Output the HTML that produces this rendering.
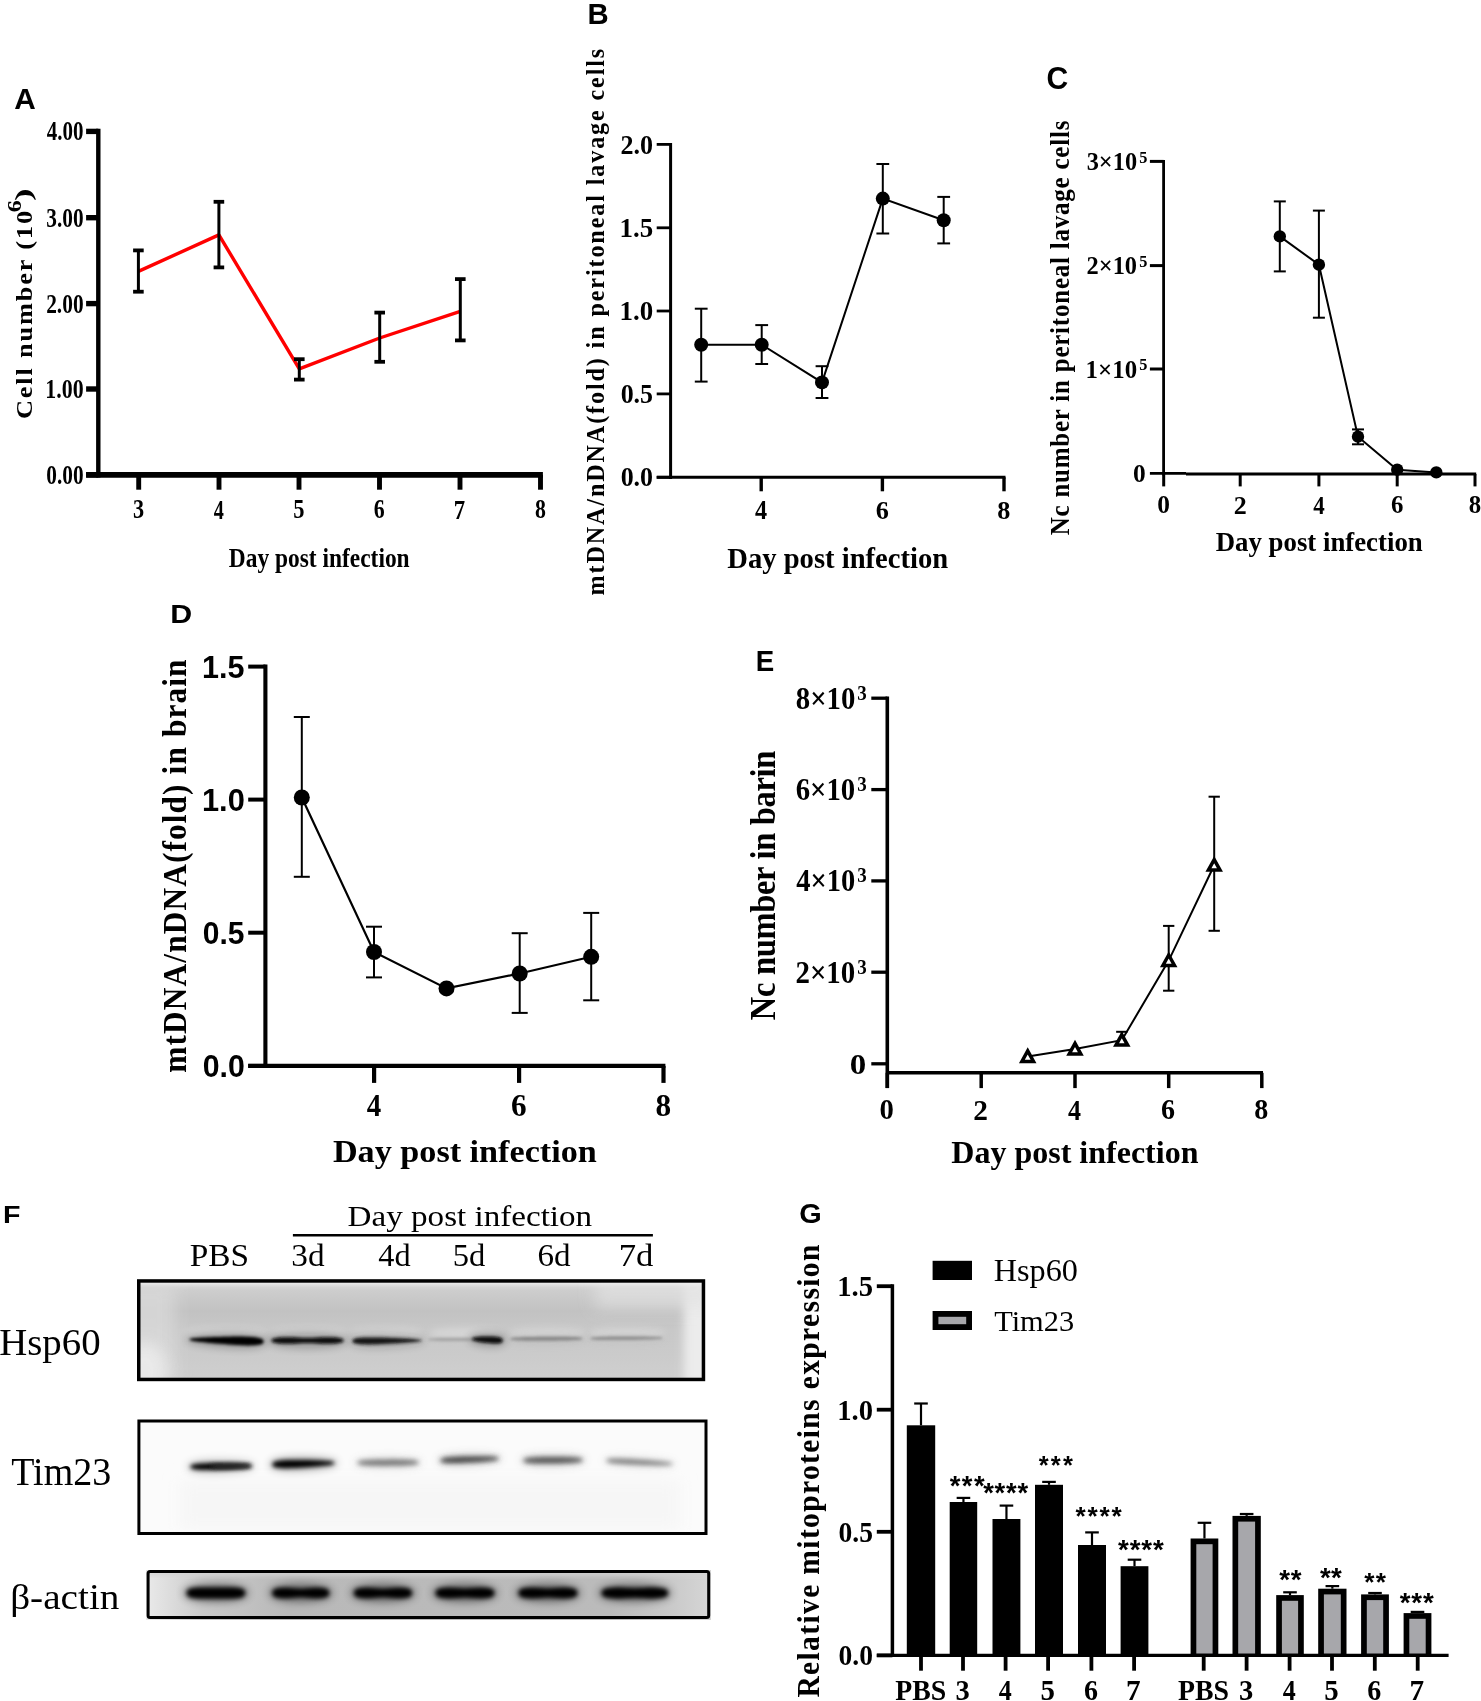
<!DOCTYPE html>
<html><head><meta charset="utf-8"><title>Figure</title>
<style>html,body{margin:0;padding:0;background:#fff;}svg{display:block;will-change:transform;}</style></head>
<body><svg width="1481" height="1701" viewBox="0 0 1481 1701">
<defs><filter id="bl12" filterUnits="userSpaceOnUse" x="0" y="1150" width="1481" height="551"><feGaussianBlur stdDeviation="1.2"/></filter><filter id="bl13" filterUnits="userSpaceOnUse" x="0" y="1150" width="1481" height="551"><feGaussianBlur stdDeviation="1.3"/></filter><filter id="bl14" filterUnits="userSpaceOnUse" x="0" y="1150" width="1481" height="551"><feGaussianBlur stdDeviation="1.4"/></filter><filter id="bl15" filterUnits="userSpaceOnUse" x="0" y="1150" width="1481" height="551"><feGaussianBlur stdDeviation="1.5"/></filter><filter id="bl16" filterUnits="userSpaceOnUse" x="0" y="1150" width="1481" height="551"><feGaussianBlur stdDeviation="1.6"/></filter><filter id="bl18" filterUnits="userSpaceOnUse" x="0" y="1150" width="1481" height="551"><feGaussianBlur stdDeviation="1.8"/></filter><filter id="bl20" filterUnits="userSpaceOnUse" x="0" y="1150" width="1481" height="551"><feGaussianBlur stdDeviation="2.0"/></filter><filter id="bl25" filterUnits="userSpaceOnUse" x="0" y="1150" width="1481" height="551"><feGaussianBlur stdDeviation="2.5"/></filter><filter id="bl30" filterUnits="userSpaceOnUse" x="0" y="1150" width="1481" height="551"><feGaussianBlur stdDeviation="3.0"/></filter><filter id="bl40" filterUnits="userSpaceOnUse" x="0" y="1150" width="1481" height="551"><feGaussianBlur stdDeviation="4.0"/></filter><filter id="bl50" filterUnits="userSpaceOnUse" x="0" y="1150" width="1481" height="551"><feGaussianBlur stdDeviation="5.0"/></filter><filter id="bl60" filterUnits="userSpaceOnUse" x="0" y="1150" width="1481" height="551"><feGaussianBlur stdDeviation="6.0"/></filter><filter id="bl80" filterUnits="userSpaceOnUse" x="0" y="1150" width="1481" height="551"><feGaussianBlur stdDeviation="8.0"/></filter>
<linearGradient id="gH" x1="0" y1="0" x2="0" y2="1">
<stop offset="0" stop-color="#dcdcdc"/><stop offset="0.1" stop-color="#cdcdcd"/><stop offset="0.3" stop-color="#c2c2c2"/>
<stop offset="0.5" stop-color="#c8c8c8"/><stop offset="0.75" stop-color="#cbcbcb"/><stop offset="1" stop-color="#cfcfcf"/>
</linearGradient>
<linearGradient id="gB" x1="0" y1="0" x2="1" y2="0">
<stop offset="0" stop-color="#eaeaea"/><stop offset="0.1" stop-color="#cacaca"/><stop offset="0.25" stop-color="#b9b9b9"/>
<stop offset="0.82" stop-color="#bbbbbb"/><stop offset="0.92" stop-color="#c8c8c8"/><stop offset="1" stop-color="#d6d6d6"/>
</linearGradient>
<clipPath id="clipH"><rect x="139" y="1281" width="565" height="99"/></clipPath>
<clipPath id="clipT"><rect x="138" y="1420" width="569" height="114"/></clipPath>
<clipPath id="clipB"><rect x="146" y="1570" width="565" height="50"/></clipPath>
</defs>
<rect x="0" y="0" width="1481" height="1701" fill="#fff"/>
<text transform="translate(14.25,109.30) scale(0.9867,1)" font-family="Liberation Sans" font-weight="bold" font-size="30.25" fill="#000" >A</text>
<line x1="98.30" y1="128.70" x2="98.30" y2="477.60" stroke="#000" stroke-width="4.4" stroke-linecap="butt"/>
<line x1="86.10" y1="131.40" x2="98.30" y2="131.40" stroke="#000" stroke-width="5.4" stroke-linecap="butt"/>
<text transform="translate(46.84,140.40) scale(0.7933,1)" font-family="Liberation Serif" font-weight="bold" font-size="26.47" fill="#000" >4.00</text>
<line x1="86.10" y1="217.70" x2="98.30" y2="217.70" stroke="#000" stroke-width="5.4" stroke-linecap="butt"/>
<text transform="translate(46.30,226.70) scale(0.8052,1)" font-family="Liberation Serif" font-weight="bold" font-size="26.47" fill="#000" >3.00</text>
<line x1="86.10" y1="303.60" x2="98.30" y2="303.60" stroke="#000" stroke-width="5.4" stroke-linecap="butt"/>
<text transform="translate(46.19,312.60) scale(0.8076,1)" font-family="Liberation Serif" font-weight="bold" font-size="26.47" fill="#000" >2.00</text>
<line x1="86.10" y1="389.00" x2="98.30" y2="389.00" stroke="#000" stroke-width="5.4" stroke-linecap="butt"/>
<text transform="translate(45.35,398.00) scale(0.8261,1)" font-family="Liberation Serif" font-weight="bold" font-size="26.47" fill="#000" >1.00</text>
<line x1="86.10" y1="474.80" x2="98.30" y2="474.80" stroke="#000" stroke-width="5.4" stroke-linecap="butt"/>
<text transform="translate(46.30,483.80) scale(0.8052,1)" font-family="Liberation Serif" font-weight="bold" font-size="26.47" fill="#000" >0.00</text>
<line x1="86.10" y1="474.80" x2="542.90" y2="474.80" stroke="#000" stroke-width="5.7" stroke-linecap="butt"/>
<line x1="138.70" y1="474.80" x2="138.70" y2="489.70" stroke="#000" stroke-width="4.9" stroke-linecap="butt"/>
<text transform="translate(132.97,518.24) scale(0.8396,1)" font-family="Liberation Serif" font-weight="bold" font-size="26.47" fill="#000" >3</text>
<line x1="219.00" y1="474.80" x2="219.00" y2="489.70" stroke="#000" stroke-width="4.9" stroke-linecap="butt"/>
<text transform="translate(213.85,518.50) scale(0.7466,1)" font-family="Liberation Serif" font-weight="bold" font-size="27.07" fill="#000" >4</text>
<line x1="299.00" y1="474.80" x2="299.00" y2="489.70" stroke="#000" stroke-width="4.9" stroke-linecap="butt"/>
<text transform="translate(293.20,518.23) scale(0.8400,1)" font-family="Liberation Serif" font-weight="bold" font-size="26.77" fill="#000" >5</text>
<line x1="379.50" y1="474.80" x2="379.50" y2="489.70" stroke="#000" stroke-width="4.9" stroke-linecap="butt"/>
<text transform="translate(373.84,518.24) scale(0.8251,1)" font-family="Liberation Serif" font-weight="bold" font-size="26.47" fill="#000" >6</text>
<line x1="460.00" y1="474.80" x2="460.00" y2="489.70" stroke="#000" stroke-width="4.9" stroke-linecap="butt"/>
<text transform="translate(453.79,518.50) scale(0.8373,1)" font-family="Liberation Serif" font-weight="bold" font-size="27.18" fill="#000" >7</text>
<line x1="540.50" y1="474.80" x2="540.50" y2="489.70" stroke="#000" stroke-width="4.9" stroke-linecap="butt"/>
<text transform="translate(534.89,518.24) scale(0.8282,1)" font-family="Liberation Serif" font-weight="bold" font-size="26.37" fill="#000" >8</text>
<text transform="translate(228.79,567.00) scale(0.8431,1)" font-family="Liberation Serif" font-weight="bold" font-size="27.79" fill="#000" >Day post infection</text>
<text transform="translate(31.50,419.12) rotate(-90) scale(1.1200,1)" font-family="Liberation Serif" font-weight="bold" font-size="23.50" letter-spacing="1.661" fill="#000">Cell number (10</text>
<text transform="translate(20.82,212.14) rotate(-90) scale(1.3091,1)" font-family="Liberation Serif" font-weight="bold" font-size="18.44" letter-spacing="0.000" fill="#000">6</text>
<text transform="translate(31.18,201.04) rotate(-90) scale(1.6766,1)" font-family="Liberation Serif" font-weight="bold" font-size="22.70" letter-spacing="0.000" fill="#000">)</text>
<polyline points="138.40,271.40 218.90,234.90 299.30,368.80 379.70,338.00 460.30,311.40" fill="none" stroke="#ff0000" stroke-width="3.4" stroke-linejoin="round"/>
<line x1="138.40" y1="250.40" x2="138.40" y2="291.70" stroke="#000" stroke-width="3.0" stroke-linecap="butt"/>
<line x1="133.10" y1="250.40" x2="143.70" y2="250.40" stroke="#000" stroke-width="3.8" stroke-linecap="butt"/>
<line x1="133.10" y1="291.70" x2="143.70" y2="291.70" stroke="#000" stroke-width="3.8" stroke-linecap="butt"/>
<line x1="218.90" y1="201.80" x2="218.90" y2="267.40" stroke="#000" stroke-width="3.0" stroke-linecap="butt"/>
<line x1="213.60" y1="201.80" x2="224.20" y2="201.80" stroke="#000" stroke-width="3.8" stroke-linecap="butt"/>
<line x1="213.60" y1="267.40" x2="224.20" y2="267.40" stroke="#000" stroke-width="3.8" stroke-linecap="butt"/>
<line x1="299.30" y1="359.20" x2="299.30" y2="379.60" stroke="#000" stroke-width="3.0" stroke-linecap="butt"/>
<line x1="294.00" y1="359.20" x2="304.60" y2="359.20" stroke="#000" stroke-width="3.8" stroke-linecap="butt"/>
<line x1="294.00" y1="379.60" x2="304.60" y2="379.60" stroke="#000" stroke-width="3.8" stroke-linecap="butt"/>
<line x1="379.70" y1="312.60" x2="379.70" y2="361.80" stroke="#000" stroke-width="3.0" stroke-linecap="butt"/>
<line x1="374.40" y1="312.60" x2="385.00" y2="312.60" stroke="#000" stroke-width="3.8" stroke-linecap="butt"/>
<line x1="374.40" y1="361.80" x2="385.00" y2="361.80" stroke="#000" stroke-width="3.8" stroke-linecap="butt"/>
<line x1="460.30" y1="279.10" x2="460.30" y2="340.40" stroke="#000" stroke-width="3.0" stroke-linecap="butt"/>
<line x1="455.00" y1="279.10" x2="465.60" y2="279.10" stroke="#000" stroke-width="3.8" stroke-linecap="butt"/>
<line x1="455.00" y1="340.40" x2="465.60" y2="340.40" stroke="#000" stroke-width="3.8" stroke-linecap="butt"/>
<text transform="translate(587.42,24.10) scale(0.9987,1)" font-family="Liberation Sans" font-weight="bold" font-size="29.38" fill="#000" >B</text>
<line x1="670.60" y1="143.00" x2="670.60" y2="478.90" stroke="#000" stroke-width="3.0" stroke-linecap="butt"/>
<line x1="656.70" y1="144.40" x2="670.60" y2="144.40" stroke="#000" stroke-width="2.8" stroke-linecap="butt"/>
<text transform="translate(620.49,153.50) scale(0.9794,1)" font-family="Liberation Serif" font-weight="bold" font-size="26.62" fill="#000" >2.0</text>
<line x1="656.70" y1="227.80" x2="670.60" y2="227.80" stroke="#000" stroke-width="2.8" stroke-linecap="butt"/>
<text transform="translate(619.45,236.90) scale(1.0044,1)" font-family="Liberation Serif" font-weight="bold" font-size="26.81" fill="#000" >1.5</text>
<line x1="656.70" y1="311.00" x2="670.60" y2="311.00" stroke="#000" stroke-width="2.8" stroke-linecap="butt"/>
<text transform="translate(619.45,320.10) scale(1.0118,1)" font-family="Liberation Serif" font-weight="bold" font-size="26.62" fill="#000" >1.0</text>
<line x1="656.70" y1="393.90" x2="670.60" y2="393.90" stroke="#000" stroke-width="2.8" stroke-linecap="butt"/>
<text transform="translate(620.63,403.00) scale(0.9752,1)" font-family="Liberation Serif" font-weight="bold" font-size="26.62" fill="#000" >0.5</text>
<line x1="656.70" y1="477.30" x2="670.60" y2="477.30" stroke="#000" stroke-width="2.8" stroke-linecap="butt"/>
<text transform="translate(620.63,486.40) scale(0.9752,1)" font-family="Liberation Serif" font-weight="bold" font-size="26.62" fill="#000" >0.0</text>
<line x1="656.70" y1="477.30" x2="1005.50" y2="477.30" stroke="#000" stroke-width="3.1" stroke-linecap="butt"/>
<line x1="761.20" y1="477.30" x2="761.20" y2="491.30" stroke="#000" stroke-width="3.4" stroke-linecap="butt"/>
<text transform="translate(755.10,519.30) scale(0.9165,1)" font-family="Liberation Serif" font-weight="bold" font-size="26.46" fill="#000" >4</text>
<line x1="882.40" y1="477.30" x2="882.40" y2="491.30" stroke="#000" stroke-width="3.4" stroke-linecap="butt"/>
<text transform="translate(875.68,519.04) scale(1.0129,1)" font-family="Liberation Serif" font-weight="bold" font-size="25.87" fill="#000" >6</text>
<line x1="1004.00" y1="477.30" x2="1004.00" y2="491.30" stroke="#000" stroke-width="3.4" stroke-linecap="butt"/>
<text transform="translate(997.35,519.04) scale(1.0166,1)" font-family="Liberation Serif" font-weight="bold" font-size="25.78" fill="#000" >8</text>
<text transform="translate(727.30,567.50) scale(1.0073,1)" font-family="Liberation Serif" font-weight="bold" font-size="28.40" fill="#000" >Day post infection</text>
<text transform="translate(604.29,595.46) rotate(-90) scale(0.9300,1)" font-family="Liberation Serif" font-weight="bold" font-size="25.95" letter-spacing="2.024" fill="#000">mtDNA/nDNA(fold) in peritoneal lavage cells</text>
<line x1="701.20" y1="308.70" x2="701.20" y2="381.60" stroke="#000" stroke-width="2.0" stroke-linecap="butt"/>
<line x1="694.80" y1="308.70" x2="707.60" y2="308.70" stroke="#000" stroke-width="2.0" stroke-linecap="butt"/>
<line x1="694.80" y1="381.60" x2="707.60" y2="381.60" stroke="#000" stroke-width="2.0" stroke-linecap="butt"/>
<line x1="761.70" y1="325.10" x2="761.70" y2="364.00" stroke="#000" stroke-width="2.0" stroke-linecap="butt"/>
<line x1="755.30" y1="325.10" x2="768.10" y2="325.10" stroke="#000" stroke-width="2.0" stroke-linecap="butt"/>
<line x1="755.30" y1="364.00" x2="768.10" y2="364.00" stroke="#000" stroke-width="2.0" stroke-linecap="butt"/>
<line x1="822.00" y1="366.20" x2="822.00" y2="398.00" stroke="#000" stroke-width="2.0" stroke-linecap="butt"/>
<line x1="815.60" y1="366.20" x2="828.40" y2="366.20" stroke="#000" stroke-width="2.0" stroke-linecap="butt"/>
<line x1="815.60" y1="398.00" x2="828.40" y2="398.00" stroke="#000" stroke-width="2.0" stroke-linecap="butt"/>
<line x1="882.80" y1="164.00" x2="882.80" y2="233.50" stroke="#000" stroke-width="2.0" stroke-linecap="butt"/>
<line x1="876.40" y1="164.00" x2="889.20" y2="164.00" stroke="#000" stroke-width="2.0" stroke-linecap="butt"/>
<line x1="876.40" y1="233.50" x2="889.20" y2="233.50" stroke="#000" stroke-width="2.0" stroke-linecap="butt"/>
<line x1="943.70" y1="196.90" x2="943.70" y2="243.40" stroke="#000" stroke-width="2.0" stroke-linecap="butt"/>
<line x1="937.30" y1="196.90" x2="950.10" y2="196.90" stroke="#000" stroke-width="2.0" stroke-linecap="butt"/>
<line x1="937.30" y1="243.40" x2="950.10" y2="243.40" stroke="#000" stroke-width="2.0" stroke-linecap="butt"/>
<polyline points="701.20,344.70 761.70,344.70 822.00,382.40 882.80,198.60 943.70,220.20" fill="none" stroke="#000" stroke-width="2.0" stroke-linejoin="miter"/>
<circle cx="701.20" cy="344.70" r="7.00" fill="#000"/>
<circle cx="761.70" cy="344.70" r="7.00" fill="#000"/>
<circle cx="822.00" cy="382.40" r="7.00" fill="#000"/>
<circle cx="882.80" cy="198.60" r="7.00" fill="#000"/>
<circle cx="943.70" cy="220.20" r="7.00" fill="#000"/>
<text transform="translate(1046.60,88.59) scale(0.9761,1)" font-family="Liberation Sans" font-weight="bold" font-size="30.81" fill="#000" >C</text>
<line x1="1163.60" y1="160.00" x2="1163.60" y2="475.50" stroke="#000" stroke-width="2.8" stroke-linecap="butt"/>
<line x1="1149.90" y1="161.40" x2="1163.60" y2="161.40" stroke="#000" stroke-width="3.0" stroke-linecap="butt"/>
<text transform="translate(1086.69,170.24) scale(0.9505,1)" font-family="Liberation Serif" font-weight="bold" font-size="25.63" fill="#000" >3×10</text>
<text transform="translate(1139.25,162.73) scale(0.9697,1)" font-family="Liberation Serif" font-weight="bold" font-size="16.84" fill="#000" >5</text>
<line x1="1149.90" y1="265.60" x2="1163.60" y2="265.60" stroke="#000" stroke-width="3.0" stroke-linecap="butt"/>
<text transform="translate(1086.56,274.44) scale(0.9529,1)" font-family="Liberation Serif" font-weight="bold" font-size="25.63" fill="#000" >2×10</text>
<text transform="translate(1139.25,266.93) scale(0.9697,1)" font-family="Liberation Serif" font-weight="bold" font-size="16.84" fill="#000" >5</text>
<line x1="1149.90" y1="369.00" x2="1163.60" y2="369.00" stroke="#000" stroke-width="3.0" stroke-linecap="butt"/>
<text transform="translate(1085.61,377.84) scale(0.9712,1)" font-family="Liberation Serif" font-weight="bold" font-size="25.63" fill="#000" >1×10</text>
<text transform="translate(1139.25,370.33) scale(0.9697,1)" font-family="Liberation Serif" font-weight="bold" font-size="16.84" fill="#000" >5</text>
<line x1="1149.90" y1="473.30" x2="1186.00" y2="473.30" stroke="#000" stroke-width="2.8" stroke-linecap="butt"/>
<text transform="translate(1133.05,482.44) scale(0.9915,1)" font-family="Liberation Serif" font-weight="bold" font-size="25.63" fill="#000" >0</text>
<line x1="1186.00" y1="474.00" x2="1476.20" y2="474.00" stroke="#000" stroke-width="3.2" stroke-linecap="butt"/>
<line x1="1163.70" y1="474.00" x2="1163.70" y2="486.40" stroke="#000" stroke-width="3.0" stroke-linecap="butt"/>
<text transform="translate(1157.35,513.25) scale(1.0210,1)" font-family="Liberation Serif" font-weight="bold" font-size="24.89" fill="#000" >0</text>
<line x1="1240.20" y1="474.00" x2="1240.20" y2="486.40" stroke="#000" stroke-width="3.0" stroke-linecap="butt"/>
<text transform="translate(1233.69,513.50) scale(1.0262,1)" font-family="Liberation Serif" font-weight="bold" font-size="25.36" fill="#000" >2</text>
<line x1="1318.90" y1="474.00" x2="1318.90" y2="486.40" stroke="#000" stroke-width="3.0" stroke-linecap="butt"/>
<text transform="translate(1313.21,513.50) scale(0.8993,1)" font-family="Liberation Serif" font-weight="bold" font-size="25.55" fill="#000" >4</text>
<line x1="1397.20" y1="474.00" x2="1397.20" y2="486.40" stroke="#000" stroke-width="3.0" stroke-linecap="butt"/>
<text transform="translate(1390.93,513.25) scale(0.9938,1)" font-family="Liberation Serif" font-weight="bold" font-size="24.98" fill="#000" >6</text>
<line x1="1475.00" y1="474.00" x2="1475.00" y2="486.40" stroke="#000" stroke-width="3.0" stroke-linecap="butt"/>
<text transform="translate(1468.79,513.25) scale(0.9975,1)" font-family="Liberation Serif" font-weight="bold" font-size="24.89" fill="#000" >8</text>
<text transform="translate(1215.73,550.80) scale(0.9865,1)" font-family="Liberation Serif" font-weight="bold" font-size="27.18" fill="#000" >Day post infection</text>
<text transform="translate(1068.61,535.30) rotate(-90) scale(0.9300,1)" font-family="Liberation Serif" font-weight="bold" font-size="26.78" letter-spacing="0.882" fill="#000">Nc number in peritoneal lavage cells</text>
<line x1="1279.80" y1="201.40" x2="1279.80" y2="271.40" stroke="#000" stroke-width="2.0" stroke-linecap="butt"/>
<line x1="1273.80" y1="201.40" x2="1285.80" y2="201.40" stroke="#000" stroke-width="2.0" stroke-linecap="butt"/>
<line x1="1273.80" y1="271.40" x2="1285.80" y2="271.40" stroke="#000" stroke-width="2.0" stroke-linecap="butt"/>
<line x1="1318.90" y1="210.60" x2="1318.90" y2="317.70" stroke="#000" stroke-width="2.0" stroke-linecap="butt"/>
<line x1="1312.90" y1="210.60" x2="1324.90" y2="210.60" stroke="#000" stroke-width="2.0" stroke-linecap="butt"/>
<line x1="1312.90" y1="317.70" x2="1324.90" y2="317.70" stroke="#000" stroke-width="2.0" stroke-linecap="butt"/>
<line x1="1358.00" y1="429.40" x2="1358.00" y2="444.30" stroke="#000" stroke-width="2.0" stroke-linecap="butt"/>
<line x1="1352.00" y1="429.40" x2="1364.00" y2="429.40" stroke="#000" stroke-width="2.0" stroke-linecap="butt"/>
<line x1="1352.00" y1="444.30" x2="1364.00" y2="444.30" stroke="#000" stroke-width="2.0" stroke-linecap="butt"/>
<polyline points="1279.80,236.40 1318.90,264.70 1358.00,436.70 1397.20,469.70 1436.30,472.40" fill="none" stroke="#000" stroke-width="2.0" stroke-linejoin="miter"/>
<circle cx="1279.80" cy="236.40" r="6.20" fill="#000"/>
<circle cx="1318.90" cy="264.70" r="6.20" fill="#000"/>
<circle cx="1358.00" cy="436.70" r="6.20" fill="#000"/>
<circle cx="1397.20" cy="469.70" r="6.20" fill="#000"/>
<circle cx="1436.30" cy="472.40" r="6.20" fill="#000"/>
<text transform="translate(170.25,622.70) scale(1.1729,1)" font-family="Liberation Sans" font-weight="bold" font-size="25.89" fill="#000" >D</text>
<line x1="265.40" y1="664.60" x2="265.40" y2="1068.00" stroke="#000" stroke-width="4.1" stroke-linecap="butt"/>
<line x1="248.20" y1="666.60" x2="265.40" y2="666.60" stroke="#000" stroke-width="4.0" stroke-linecap="butt"/>
<text transform="translate(201.99,677.78) scale(0.9509,1)" font-family="Liberation Sans" font-weight="bold" font-size="32.11" fill="#000" >1.5</text>
<line x1="248.20" y1="799.60" x2="265.40" y2="799.60" stroke="#000" stroke-width="4.0" stroke-linecap="butt"/>
<text transform="translate(201.97,810.78) scale(0.9739,1)" font-family="Liberation Sans" font-weight="bold" font-size="31.66" fill="#000" >1.0</text>
<line x1="248.20" y1="932.70" x2="265.40" y2="932.70" stroke="#000" stroke-width="4.0" stroke-linecap="butt"/>
<text transform="translate(202.70,943.88) scale(0.9481,1)" font-family="Liberation Sans" font-weight="bold" font-size="31.66" fill="#000" >0.5</text>
<line x1="248.20" y1="1065.90" x2="265.40" y2="1065.90" stroke="#000" stroke-width="4.0" stroke-linecap="butt"/>
<text transform="translate(202.69,1077.08) scale(0.9572,1)" font-family="Liberation Sans" font-weight="bold" font-size="31.66" fill="#000" >0.0</text>
<line x1="248.20" y1="1065.90" x2="665.40" y2="1065.90" stroke="#000" stroke-width="4.2" stroke-linecap="butt"/>
<line x1="374.10" y1="1065.90" x2="374.10" y2="1082.90" stroke="#000" stroke-width="4.2" stroke-linecap="butt"/>
<text transform="translate(366.64,1116.00) scale(0.9191,1)" font-family="Liberation Serif" font-weight="bold" font-size="31.48" fill="#000" >4</text>
<line x1="519.10" y1="1065.90" x2="519.10" y2="1082.90" stroke="#000" stroke-width="4.2" stroke-linecap="butt"/>
<text transform="translate(510.91,1115.69) scale(1.0157,1)" font-family="Liberation Serif" font-weight="bold" font-size="30.78" fill="#000" >6</text>
<line x1="663.50" y1="1065.90" x2="663.50" y2="1082.90" stroke="#000" stroke-width="4.2" stroke-linecap="butt"/>
<text transform="translate(655.38,1115.69) scale(1.0195,1)" font-family="Liberation Serif" font-weight="bold" font-size="30.67" fill="#000" >8</text>
<text transform="translate(332.90,1162.40) scale(1.0765,1)" font-family="Liberation Serif" font-weight="bold" font-size="31.76" fill="#000" >Day post infection</text>
<text transform="translate(185.78,1072.66) rotate(-90) scale(0.9500,1)" font-family="Liberation Serif" font-weight="bold" font-size="33.02" letter-spacing="1.159" fill="#000">mtDNA/nDNA(fold) in brain</text>
<line x1="301.80" y1="717.00" x2="301.80" y2="876.80" stroke="#000" stroke-width="2.0" stroke-linecap="butt"/>
<line x1="293.80" y1="717.00" x2="309.80" y2="717.00" stroke="#000" stroke-width="2.0" stroke-linecap="butt"/>
<line x1="293.80" y1="876.80" x2="309.80" y2="876.80" stroke="#000" stroke-width="2.0" stroke-linecap="butt"/>
<line x1="374.00" y1="926.70" x2="374.00" y2="977.40" stroke="#000" stroke-width="2.0" stroke-linecap="butt"/>
<line x1="366.00" y1="926.70" x2="382.00" y2="926.70" stroke="#000" stroke-width="2.0" stroke-linecap="butt"/>
<line x1="366.00" y1="977.40" x2="382.00" y2="977.40" stroke="#000" stroke-width="2.0" stroke-linecap="butt"/>
<line x1="519.70" y1="933.20" x2="519.70" y2="1012.90" stroke="#000" stroke-width="2.0" stroke-linecap="butt"/>
<line x1="511.70" y1="933.20" x2="527.70" y2="933.20" stroke="#000" stroke-width="2.0" stroke-linecap="butt"/>
<line x1="511.70" y1="1012.90" x2="527.70" y2="1012.90" stroke="#000" stroke-width="2.0" stroke-linecap="butt"/>
<line x1="591.20" y1="912.90" x2="591.20" y2="1000.30" stroke="#000" stroke-width="2.0" stroke-linecap="butt"/>
<line x1="583.20" y1="912.90" x2="599.20" y2="912.90" stroke="#000" stroke-width="2.0" stroke-linecap="butt"/>
<line x1="583.20" y1="1000.30" x2="599.20" y2="1000.30" stroke="#000" stroke-width="2.0" stroke-linecap="butt"/>
<polyline points="301.80,797.50 374.00,952.00 446.50,988.40 519.70,973.50 591.20,956.80" fill="none" stroke="#000" stroke-width="2.2" stroke-linejoin="miter"/>
<circle cx="301.80" cy="797.50" r="8.00" fill="#000"/>
<circle cx="374.00" cy="952.00" r="8.00" fill="#000"/>
<circle cx="446.50" cy="988.40" r="8.00" fill="#000"/>
<circle cx="519.70" cy="973.50" r="8.00" fill="#000"/>
<circle cx="591.20" cy="956.80" r="8.00" fill="#000"/>
<text transform="translate(755.73,671.10) scale(0.9237,1)" font-family="Liberation Sans" font-weight="bold" font-size="29.96" fill="#000" >E</text>
<line x1="887.30" y1="696.50" x2="887.30" y2="1088.10" stroke="#000" stroke-width="3.6" stroke-linecap="butt"/>
<line x1="871.30" y1="698.20" x2="887.30" y2="698.20" stroke="#000" stroke-width="3.3" stroke-linecap="butt"/>
<text transform="translate(795.77,708.69) scale(0.9154,1)" font-family="Liberation Serif" font-weight="bold" font-size="31.41" fill="#000" >8×10</text>
<text transform="translate(857.29,699.50) scale(0.9509,1)" font-family="Liberation Serif" font-weight="bold" font-size="19.93" fill="#000" >3</text>
<line x1="871.30" y1="789.60" x2="887.30" y2="789.60" stroke="#000" stroke-width="3.3" stroke-linecap="butt"/>
<text transform="translate(795.69,800.09) scale(0.9165,1)" font-family="Liberation Serif" font-weight="bold" font-size="31.41" fill="#000" >6×10</text>
<text transform="translate(857.29,790.90) scale(0.9509,1)" font-family="Liberation Serif" font-weight="bold" font-size="19.93" fill="#000" >3</text>
<line x1="871.30" y1="880.90" x2="887.30" y2="880.90" stroke="#000" stroke-width="3.3" stroke-linecap="butt"/>
<text transform="translate(796.34,891.39) scale(0.9063,1)" font-family="Liberation Serif" font-weight="bold" font-size="31.41" fill="#000" >4×10</text>
<text transform="translate(857.29,882.20) scale(0.9509,1)" font-family="Liberation Serif" font-weight="bold" font-size="19.93" fill="#000" >3</text>
<line x1="871.30" y1="972.20" x2="887.30" y2="972.20" stroke="#000" stroke-width="3.3" stroke-linecap="butt"/>
<text transform="translate(795.47,982.69) scale(0.9200,1)" font-family="Liberation Serif" font-weight="bold" font-size="31.41" fill="#000" >2×10</text>
<text transform="translate(857.29,973.50) scale(0.9509,1)" font-family="Liberation Serif" font-weight="bold" font-size="19.93" fill="#000" >3</text>
<line x1="871.30" y1="1063.80" x2="887.30" y2="1063.80" stroke="#000" stroke-width="3.3" stroke-linecap="butt"/>
<text transform="translate(849.76,1073.70) scale(1.1118,1)" font-family="Liberation Serif" font-weight="bold" font-size="29.63" fill="#000" >0</text>
<line x1="887.30" y1="1072.80" x2="1263.00" y2="1072.80" stroke="#000" stroke-width="3.4" stroke-linecap="butt"/>
<line x1="887.30" y1="1072.80" x2="887.30" y2="1088.10" stroke="#000" stroke-width="3.5" stroke-linecap="butt"/>
<text transform="translate(879.52,1119.31) scale(0.9737,1)" font-family="Liberation Serif" font-weight="bold" font-size="29.48" fill="#000" >0</text>
<line x1="981.20" y1="1072.80" x2="981.20" y2="1088.10" stroke="#000" stroke-width="3.5" stroke-linecap="butt"/>
<text transform="translate(973.25,1119.60) scale(0.9787,1)" font-family="Liberation Serif" font-weight="bold" font-size="30.04" fill="#000" >2</text>
<line x1="1075.00" y1="1072.80" x2="1075.00" y2="1088.10" stroke="#000" stroke-width="3.5" stroke-linecap="butt"/>
<text transform="translate(1067.98,1119.60) scale(0.8576,1)" font-family="Liberation Serif" font-weight="bold" font-size="30.27" fill="#000" >4</text>
<line x1="1168.70" y1="1072.80" x2="1168.70" y2="1088.10" stroke="#000" stroke-width="3.5" stroke-linecap="butt"/>
<text transform="translate(1161.02,1119.30) scale(0.9478,1)" font-family="Liberation Serif" font-weight="bold" font-size="29.59" fill="#000" >6</text>
<line x1="1261.80" y1="1072.80" x2="1261.80" y2="1088.10" stroke="#000" stroke-width="3.5" stroke-linecap="butt"/>
<text transform="translate(1254.19,1119.31) scale(0.9513,1)" font-family="Liberation Serif" font-weight="bold" font-size="29.48" fill="#000" >8</text>
<text transform="translate(951.34,1163.30) scale(1.0432,1)" font-family="Liberation Serif" font-weight="bold" font-size="30.69" fill="#000" >Day post infection</text>
<text transform="translate(775.36,1020.15) rotate(-90) scale(0.9300,1)" font-family="Liberation Serif" font-weight="bold" font-size="35.05" letter-spacing="-0.379" fill="#000">Nc number in barin</text>
<line x1="1121.80" y1="1031.80" x2="1121.80" y2="1045.00" stroke="#000" stroke-width="2.0" stroke-linecap="butt"/>
<line x1="1116.15" y1="1031.80" x2="1127.45" y2="1031.80" stroke="#000" stroke-width="2.0" stroke-linecap="butt"/>
<line x1="1116.15" y1="1045.00" x2="1127.45" y2="1045.00" stroke="#000" stroke-width="2.0" stroke-linecap="butt"/>
<line x1="1168.70" y1="925.90" x2="1168.70" y2="990.70" stroke="#000" stroke-width="2.0" stroke-linecap="butt"/>
<line x1="1163.05" y1="925.90" x2="1174.35" y2="925.90" stroke="#000" stroke-width="2.0" stroke-linecap="butt"/>
<line x1="1163.05" y1="990.70" x2="1174.35" y2="990.70" stroke="#000" stroke-width="2.0" stroke-linecap="butt"/>
<line x1="1214.20" y1="796.70" x2="1214.20" y2="930.80" stroke="#000" stroke-width="2.0" stroke-linecap="butt"/>
<line x1="1208.55" y1="796.70" x2="1219.85" y2="796.70" stroke="#000" stroke-width="2.0" stroke-linecap="butt"/>
<line x1="1208.55" y1="930.80" x2="1219.85" y2="930.80" stroke="#000" stroke-width="2.0" stroke-linecap="butt"/>
<polyline points="1027.70,1056.50 1075.00,1049.00 1121.80,1040.20 1168.70,960.60 1214.20,865.20" fill="none" stroke="#000" stroke-width="2.0" stroke-linejoin="miter"/>
<polygon points="1027.70,1050.90 1033.50,1061.40 1021.90,1061.40" fill="#fff" stroke="#000" stroke-width="3.5" stroke-linejoin="miter"/>
<polygon points="1075.00,1043.40 1080.80,1053.90 1069.20,1053.90" fill="#fff" stroke="#000" stroke-width="3.5" stroke-linejoin="miter"/>
<polygon points="1121.80,1034.60 1127.60,1045.10 1116.00,1045.10" fill="#fff" stroke="#000" stroke-width="3.5" stroke-linejoin="miter"/>
<polygon points="1168.70,955.00 1174.50,965.50 1162.90,965.50" fill="#fff" stroke="#000" stroke-width="3.5" stroke-linejoin="miter"/>
<polygon points="1214.20,859.60 1220.00,870.10 1208.40,870.10" fill="#fff" stroke="#000" stroke-width="3.5" stroke-linejoin="miter"/>
<text transform="translate(3.07,1222.50) scale(1.1555,1)" font-family="Liberation Sans" font-weight="bold" font-size="24.73" fill="#000" >F</text>
<text transform="translate(347.61,1226.30) scale(1.1178,1)" font-family="Liberation Serif" font-weight="normal" font-size="29.62" fill="#000" >Day post infection</text>
<line x1="292.90" y1="1235.30" x2="652.90" y2="1235.30" stroke="#000" stroke-width="2.4" stroke-linecap="butt"/>
<text transform="translate(189.80,1266.30) scale(1.0338,1)" font-family="Liberation Serif" font-weight="normal" font-size="32.21" fill="#000" >PBS</text>
<text transform="translate(291.32,1266.30) scale(1.0472,1)" font-family="Liberation Serif" font-weight="normal" font-size="31.80" fill="#000" >3d</text>
<text transform="translate(378.25,1266.30) scale(1.0174,1)" font-family="Liberation Serif" font-weight="normal" font-size="31.80" fill="#000" >4d</text>
<text transform="translate(452.63,1266.30) scale(1.0246,1)" font-family="Liberation Serif" font-weight="normal" font-size="31.80" fill="#000" >5d</text>
<text transform="translate(537.39,1266.30) scale(1.0416,1)" font-family="Liberation Serif" font-weight="normal" font-size="31.80" fill="#000" >6d</text>
<text transform="translate(618.65,1266.30) scale(1.0909,1)" font-family="Liberation Serif" font-weight="normal" font-size="31.80" fill="#000" >7d</text>
<text transform="translate(-0.76,1355.10) scale(1.0171,1)" font-family="Liberation Serif" font-weight="normal" font-size="38.17" fill="#000" >Hsp60</text>
<text transform="translate(11.24,1484.70) scale(0.9605,1)" font-family="Liberation Serif" font-weight="normal" font-size="39.54" fill="#000" >Tim23</text>
<text transform="translate(10.15,1608.80) scale(1.0687,1)" font-family="Liberation Serif" font-weight="normal" font-size="36.74" fill="#000" >β-actin</text>
<g clip-path="url(#clipH)">
<rect x="139.00" y="1281.00" width="565.00" height="99.00" fill="url(#gH)" />
<rect x="120" y="1281" width="55" height="100" fill="#d9d9d9" opacity="0.8" filter="url(#bl80)"/>
<ellipse cx="145" cy="1372" rx="22" ry="30" fill="#ececec" opacity="0.9" filter="url(#bl80)"/>
<rect x="684" y="1275" width="30" height="110" fill="#ececec" filter="url(#bl50)"/>
<rect x="595" y="1268" width="120" height="40" fill="#e2e2e2" opacity="0.7" filter="url(#bl80)"/>
<rect x="130" y="1276" width="580" height="8" fill="#f2f2f2" filter="url(#bl20)"/>
<path d="M185.0,1333.0 L187.0,1331.2 L189.0,1330.6 L191.0,1330.1 L193.0,1329.7 L195.0,1329.5 L197.0,1329.2 L199.0,1329.0 L201.0,1328.8 L203.0,1328.7 L205.0,1328.5 L207.0,1328.4 L209.0,1328.3 L211.0,1328.2 L213.0,1328.2 L215.0,1328.1 L217.0,1328.1 L219.0,1328.0 L221.0,1328.0 L223.0,1328.0 L225.0,1328.0 L227.0,1328.0 L229.0,1328.0 L231.0,1328.0 L233.0,1328.1 L235.0,1328.1 L237.0,1328.2 L239.0,1328.2 L241.0,1328.3 L243.0,1328.4 L245.0,1328.5 L247.0,1328.7 L249.0,1328.8 L251.0,1329.0 L253.0,1329.2 L255.0,1329.5 L257.0,1329.7 L259.0,1330.1 L261.0,1330.6 L263.0,1331.2 L265.0,1333.0 L265.0,1333.0 L263.0,1334.8 L261.0,1335.4 L259.0,1335.9 L257.0,1336.3 L255.0,1336.5 L253.0,1336.8 L251.0,1337.0 L249.0,1337.2 L247.0,1337.3 L245.0,1337.5 L243.0,1337.6 L241.0,1337.7 L239.0,1337.8 L237.0,1337.8 L235.0,1337.9 L233.0,1337.9 L231.0,1338.0 L229.0,1338.0 L227.0,1338.0 L225.0,1338.0 L223.0,1338.0 L221.0,1338.0 L219.0,1338.0 L217.0,1337.9 L215.0,1337.9 L213.0,1337.8 L211.0,1337.8 L209.0,1337.7 L207.0,1337.6 L205.0,1337.5 L203.0,1337.3 L201.0,1337.2 L199.0,1337.0 L197.0,1336.8 L195.0,1336.5 L193.0,1336.3 L191.0,1335.9 L189.0,1335.4 L187.0,1334.8 L185.0,1333.0Z" fill="#d6d6d6" filter="url(#bl30)"/>
<path d="M272.0,1333.0 L273.8,1331.2 L275.6,1330.6 L277.5,1330.1 L279.3,1329.7 L281.1,1329.5 L282.9,1329.2 L284.8,1329.0 L286.6,1328.8 L288.4,1328.7 L290.2,1328.5 L292.1,1328.4 L293.9,1328.3 L295.7,1328.2 L297.6,1328.2 L299.4,1328.1 L301.2,1328.1 L303.0,1328.0 L304.9,1328.0 L306.7,1328.0 L308.5,1328.0 L310.3,1328.0 L312.1,1328.0 L314.0,1328.0 L315.8,1328.1 L317.6,1328.1 L319.4,1328.2 L321.3,1328.2 L323.1,1328.3 L324.9,1328.4 L326.8,1328.5 L328.6,1328.7 L330.4,1328.8 L332.2,1329.0 L334.1,1329.2 L335.9,1329.5 L337.7,1329.7 L339.5,1330.1 L341.4,1330.6 L343.2,1331.2 L345.0,1333.0 L345.0,1333.0 L343.2,1334.8 L341.4,1335.4 L339.5,1335.9 L337.7,1336.3 L335.9,1336.5 L334.1,1336.8 L332.2,1337.0 L330.4,1337.2 L328.6,1337.3 L326.8,1337.5 L324.9,1337.6 L323.1,1337.7 L321.3,1337.8 L319.4,1337.8 L317.6,1337.9 L315.8,1337.9 L314.0,1338.0 L312.1,1338.0 L310.3,1338.0 L308.5,1338.0 L306.7,1338.0 L304.9,1338.0 L303.0,1338.0 L301.2,1337.9 L299.4,1337.9 L297.6,1337.8 L295.7,1337.8 L293.9,1337.7 L292.1,1337.6 L290.2,1337.5 L288.4,1337.3 L286.6,1337.2 L284.8,1337.0 L282.9,1336.8 L281.1,1336.5 L279.3,1336.3 L277.5,1335.9 L275.6,1335.4 L273.8,1334.8 L272.0,1333.0Z" fill="#d6d6d6" filter="url(#bl30)"/>
<path d="M352.0,1333.0 L353.8,1331.2 L355.5,1330.6 L357.2,1330.1 L359.0,1329.7 L360.8,1329.5 L362.5,1329.2 L364.2,1329.0 L366.0,1328.8 L367.8,1328.7 L369.5,1328.5 L371.2,1328.4 L373.0,1328.3 L374.8,1328.2 L376.5,1328.2 L378.2,1328.1 L380.0,1328.1 L381.8,1328.0 L383.5,1328.0 L385.2,1328.0 L387.0,1328.0 L388.8,1328.0 L390.5,1328.0 L392.2,1328.0 L394.0,1328.1 L395.8,1328.1 L397.5,1328.2 L399.2,1328.2 L401.0,1328.3 L402.8,1328.4 L404.5,1328.5 L406.2,1328.7 L408.0,1328.8 L409.8,1329.0 L411.5,1329.2 L413.2,1329.5 L415.0,1329.7 L416.8,1330.1 L418.5,1330.6 L420.2,1331.2 L422.0,1333.0 L422.0,1333.0 L420.2,1334.8 L418.5,1335.4 L416.8,1335.9 L415.0,1336.3 L413.2,1336.5 L411.5,1336.8 L409.8,1337.0 L408.0,1337.2 L406.2,1337.3 L404.5,1337.5 L402.8,1337.6 L401.0,1337.7 L399.2,1337.8 L397.5,1337.8 L395.8,1337.9 L394.0,1337.9 L392.2,1338.0 L390.5,1338.0 L388.8,1338.0 L387.0,1338.0 L385.2,1338.0 L383.5,1338.0 L381.8,1338.0 L380.0,1337.9 L378.2,1337.9 L376.5,1337.8 L374.8,1337.8 L373.0,1337.7 L371.2,1337.6 L369.5,1337.5 L367.8,1337.3 L366.0,1337.2 L364.2,1337.0 L362.5,1336.8 L360.8,1336.5 L359.0,1336.3 L357.2,1335.9 L355.5,1335.4 L353.8,1334.8 L352.0,1333.0Z" fill="#d6d6d6" filter="url(#bl30)"/>
<path d="M430.0,1333.0 L431.8,1331.2 L433.5,1330.6 L435.2,1330.1 L437.0,1329.7 L438.8,1329.5 L440.5,1329.2 L442.2,1329.0 L444.0,1328.8 L445.8,1328.7 L447.5,1328.5 L449.2,1328.4 L451.0,1328.3 L452.8,1328.2 L454.5,1328.2 L456.2,1328.1 L458.0,1328.1 L459.8,1328.0 L461.5,1328.0 L463.2,1328.0 L465.0,1328.0 L466.8,1328.0 L468.5,1328.0 L470.2,1328.0 L472.0,1328.1 L473.8,1328.1 L475.5,1328.2 L477.2,1328.2 L479.0,1328.3 L480.8,1328.4 L482.5,1328.5 L484.2,1328.7 L486.0,1328.8 L487.8,1329.0 L489.5,1329.2 L491.2,1329.5 L493.0,1329.7 L494.8,1330.1 L496.5,1330.6 L498.2,1331.2 L500.0,1333.0 L500.0,1333.0 L498.2,1334.8 L496.5,1335.4 L494.8,1335.9 L493.0,1336.3 L491.2,1336.5 L489.5,1336.8 L487.8,1337.0 L486.0,1337.2 L484.2,1337.3 L482.5,1337.5 L480.8,1337.6 L479.0,1337.7 L477.2,1337.8 L475.5,1337.8 L473.8,1337.9 L472.0,1337.9 L470.2,1338.0 L468.5,1338.0 L466.8,1338.0 L465.0,1338.0 L463.2,1338.0 L461.5,1338.0 L459.8,1338.0 L458.0,1337.9 L456.2,1337.9 L454.5,1337.8 L452.8,1337.8 L451.0,1337.7 L449.2,1337.6 L447.5,1337.5 L445.8,1337.3 L444.0,1337.2 L442.2,1337.0 L440.5,1336.8 L438.8,1336.5 L437.0,1336.3 L435.2,1335.9 L433.5,1335.4 L431.8,1334.8 L430.0,1333.0Z" fill="#d6d6d6" filter="url(#bl30)"/>
<path d="M510.0,1333.0 L511.9,1331.2 L513.8,1330.6 L515.6,1330.1 L517.5,1329.7 L519.4,1329.5 L521.2,1329.2 L523.1,1329.0 L525.0,1328.8 L526.9,1328.7 L528.8,1328.5 L530.6,1328.4 L532.5,1328.3 L534.4,1328.2 L536.2,1328.2 L538.1,1328.1 L540.0,1328.1 L541.9,1328.0 L543.8,1328.0 L545.6,1328.0 L547.5,1328.0 L549.4,1328.0 L551.2,1328.0 L553.1,1328.0 L555.0,1328.1 L556.9,1328.1 L558.8,1328.2 L560.6,1328.2 L562.5,1328.3 L564.4,1328.4 L566.2,1328.5 L568.1,1328.7 L570.0,1328.8 L571.9,1329.0 L573.8,1329.2 L575.6,1329.5 L577.5,1329.7 L579.4,1330.1 L581.2,1330.6 L583.1,1331.2 L585.0,1333.0 L585.0,1333.0 L583.1,1334.8 L581.2,1335.4 L579.4,1335.9 L577.5,1336.3 L575.6,1336.5 L573.8,1336.8 L571.9,1337.0 L570.0,1337.2 L568.1,1337.3 L566.2,1337.5 L564.4,1337.6 L562.5,1337.7 L560.6,1337.8 L558.8,1337.8 L556.9,1337.9 L555.0,1337.9 L553.1,1338.0 L551.2,1338.0 L549.4,1338.0 L547.5,1338.0 L545.6,1338.0 L543.8,1338.0 L541.9,1338.0 L540.0,1337.9 L538.1,1337.9 L536.2,1337.8 L534.4,1337.8 L532.5,1337.7 L530.6,1337.6 L528.8,1337.5 L526.9,1337.3 L525.0,1337.2 L523.1,1337.0 L521.2,1336.8 L519.4,1336.5 L517.5,1336.3 L515.6,1335.9 L513.8,1335.4 L511.9,1334.8 L510.0,1333.0Z" fill="#d6d6d6" filter="url(#bl30)"/>
<path d="M590.0,1333.0 L591.9,1331.2 L593.8,1330.6 L595.6,1330.1 L597.5,1329.7 L599.4,1329.5 L601.2,1329.2 L603.1,1329.0 L605.0,1328.8 L606.9,1328.7 L608.8,1328.5 L610.6,1328.4 L612.5,1328.3 L614.4,1328.2 L616.2,1328.2 L618.1,1328.1 L620.0,1328.1 L621.9,1328.0 L623.8,1328.0 L625.6,1328.0 L627.5,1328.0 L629.4,1328.0 L631.2,1328.0 L633.1,1328.0 L635.0,1328.1 L636.9,1328.1 L638.8,1328.2 L640.6,1328.2 L642.5,1328.3 L644.4,1328.4 L646.2,1328.5 L648.1,1328.7 L650.0,1328.8 L651.9,1329.0 L653.8,1329.2 L655.6,1329.5 L657.5,1329.7 L659.4,1330.1 L661.2,1330.6 L663.1,1331.2 L665.0,1333.0 L665.0,1333.0 L663.1,1334.8 L661.2,1335.4 L659.4,1335.9 L657.5,1336.3 L655.6,1336.5 L653.8,1336.8 L651.9,1337.0 L650.0,1337.2 L648.1,1337.3 L646.2,1337.5 L644.4,1337.6 L642.5,1337.7 L640.6,1337.8 L638.8,1337.8 L636.9,1337.9 L635.0,1337.9 L633.1,1338.0 L631.2,1338.0 L629.4,1338.0 L627.5,1338.0 L625.6,1338.0 L623.8,1338.0 L621.9,1338.0 L620.0,1337.9 L618.1,1337.9 L616.2,1337.8 L614.4,1337.8 L612.5,1337.7 L610.6,1337.6 L608.8,1337.5 L606.9,1337.3 L605.0,1337.2 L603.1,1337.0 L601.2,1336.8 L599.4,1336.5 L597.5,1336.3 L595.6,1335.9 L593.8,1335.4 L591.9,1334.8 L590.0,1333.0Z" fill="#d6d6d6" filter="url(#bl30)"/>
<path d="M186.0,1339.5 L188.0,1337.7 L190.1,1337.1 L192.1,1336.6 L194.1,1336.2 L196.1,1335.9 L198.2,1335.6 L200.2,1335.4 L202.2,1335.1 L204.2,1334.9 L206.2,1334.7 L208.3,1334.6 L210.3,1334.4 L212.3,1334.3 L214.3,1334.2 L216.4,1334.1 L218.4,1334.0 L220.4,1333.9 L222.4,1333.8 L224.5,1333.8 L226.5,1333.8 L228.5,1333.7 L230.6,1333.7 L232.6,1333.7 L234.6,1333.7 L236.6,1333.7 L238.7,1333.8 L240.7,1333.8 L242.7,1333.9 L244.7,1334.0 L246.8,1334.2 L248.8,1334.4 L250.8,1334.6 L252.8,1334.8 L254.8,1335.2 L256.9,1335.5 L258.9,1336.0 L260.9,1336.6 L262.9,1337.3 L265.0,1338.4 L267.0,1341.5 L267.0,1341.5 L265.0,1344.5 L262.9,1345.5 L260.9,1346.1 L258.9,1346.6 L256.9,1347.0 L254.8,1347.2 L252.8,1347.5 L250.8,1347.6 L248.8,1347.7 L246.8,1347.8 L244.7,1347.9 L242.7,1347.9 L240.7,1347.9 L238.7,1347.8 L236.6,1347.8 L234.6,1347.7 L232.6,1347.6 L230.6,1347.5 L228.5,1347.4 L226.5,1347.2 L224.5,1347.1 L222.4,1347.0 L220.4,1346.8 L218.4,1346.6 L216.4,1346.4 L214.3,1346.2 L212.3,1346.0 L210.3,1345.8 L208.3,1345.5 L206.2,1345.3 L204.2,1345.0 L202.2,1344.7 L200.2,1344.3 L198.2,1344.0 L196.1,1343.6 L194.1,1343.2 L192.1,1342.7 L190.1,1342.1 L188.0,1341.4 L186.0,1339.5Z" fill="#000" opacity="0.3" filter="url(#bl40)"/>
<path d="M189.0,1339.5 L190.9,1338.6 L192.8,1338.3 L194.6,1338.1 L196.5,1338.0 L198.4,1337.8 L200.2,1337.7 L202.1,1337.6 L204.0,1337.5 L205.9,1337.4 L207.8,1337.3 L209.6,1337.2 L211.5,1337.2 L213.4,1337.1 L215.2,1337.0 L217.1,1337.0 L219.0,1336.9 L220.9,1336.9 L222.8,1336.8 L224.6,1336.8 L226.5,1336.8 L228.4,1336.7 L230.2,1336.7 L232.1,1336.6 L234.0,1336.6 L235.9,1336.6 L237.8,1336.6 L239.6,1336.6 L241.5,1336.6 L243.4,1336.6 L245.2,1336.7 L247.1,1336.7 L249.0,1336.8 L250.9,1337.0 L252.8,1337.1 L254.6,1337.3 L256.5,1337.5 L258.4,1337.9 L260.2,1338.3 L262.1,1339.0 L264.0,1341.5 L264.0,1341.5 L262.1,1343.9 L260.2,1344.5 L258.4,1344.8 L256.5,1345.1 L254.6,1345.2 L252.8,1345.3 L250.9,1345.3 L249.0,1345.4 L247.1,1345.4 L245.2,1345.3 L243.4,1345.3 L241.5,1345.2 L239.6,1345.1 L237.8,1345.0 L235.9,1344.9 L234.0,1344.8 L232.1,1344.7 L230.2,1344.5 L228.4,1344.4 L226.5,1344.2 L224.6,1344.1 L222.8,1344.0 L220.9,1343.8 L219.0,1343.7 L217.1,1343.5 L215.2,1343.4 L213.4,1343.2 L211.5,1343.0 L209.6,1342.9 L207.8,1342.7 L205.9,1342.5 L204.0,1342.3 L202.1,1342.1 L200.2,1341.9 L198.4,1341.7 L196.5,1341.4 L194.6,1341.2 L192.8,1340.9 L190.9,1340.5 L189.0,1339.5Z" fill="#000" filter="url(#bl18)"/>
<path d="M268.0,1340.5 L270.0,1338.0 L271.9,1337.1 L273.9,1336.4 L275.9,1335.9 L277.9,1335.5 L279.9,1335.2 L281.8,1334.9 L283.8,1334.6 L285.8,1334.4 L287.8,1334.2 L289.7,1334.1 L291.7,1333.9 L293.7,1333.8 L295.6,1333.7 L297.6,1333.7 L299.6,1333.6 L301.6,1333.5 L303.6,1333.5 L305.5,1333.5 L307.5,1333.5 L309.5,1333.5 L311.4,1333.5 L313.4,1333.5 L315.4,1333.6 L317.4,1333.7 L319.4,1333.7 L321.3,1333.8 L323.3,1333.9 L325.3,1334.1 L327.2,1334.2 L329.2,1334.4 L331.2,1334.6 L333.2,1334.9 L335.1,1335.2 L337.1,1335.5 L339.1,1335.9 L341.1,1336.4 L343.1,1337.1 L345.0,1338.0 L347.0,1340.5 L347.0,1340.5 L345.0,1343.0 L343.1,1343.9 L341.1,1344.6 L339.1,1345.1 L337.1,1345.5 L335.1,1345.8 L333.2,1346.1 L331.2,1346.4 L329.2,1346.6 L327.2,1346.8 L325.3,1346.9 L323.3,1347.1 L321.3,1347.2 L319.4,1347.3 L317.4,1347.3 L315.4,1347.4 L313.4,1347.5 L311.4,1347.5 L309.5,1347.5 L307.5,1347.5 L305.5,1347.5 L303.6,1347.5 L301.6,1347.5 L299.6,1347.4 L297.6,1347.3 L295.6,1347.3 L293.7,1347.2 L291.7,1347.1 L289.7,1346.9 L287.8,1346.8 L285.8,1346.6 L283.8,1346.4 L281.8,1346.1 L279.9,1345.8 L277.9,1345.5 L275.9,1345.1 L273.9,1344.6 L271.9,1343.9 L270.0,1343.0 L268.0,1340.5Z" fill="#0a0a0a" opacity="0.3" filter="url(#bl40)"/>
<path d="M271.0,1340.5 L272.8,1338.7 L274.6,1338.2 L276.5,1337.9 L278.3,1337.6 L280.1,1337.4 L281.9,1337.3 L283.8,1337.2 L285.6,1337.2 L287.4,1337.2 L289.2,1337.2 L291.1,1337.2 L292.9,1337.3 L294.7,1337.4 L296.6,1337.6 L298.4,1337.7 L300.2,1337.8 L302.0,1337.9 L303.9,1338.0 L305.7,1338.1 L307.5,1338.1 L309.3,1338.1 L311.1,1338.0 L313.0,1337.9 L314.8,1337.8 L316.6,1337.7 L318.4,1337.6 L320.3,1337.4 L322.1,1337.3 L323.9,1337.2 L325.8,1337.2 L327.6,1337.2 L329.4,1337.2 L331.2,1337.2 L333.1,1337.3 L334.9,1337.4 L336.7,1337.6 L338.5,1337.9 L340.4,1338.2 L342.2,1338.7 L344.0,1340.5 L344.0,1340.5 L342.2,1342.3 L340.4,1342.8 L338.5,1343.1 L336.7,1343.4 L334.9,1343.6 L333.1,1343.7 L331.2,1343.8 L329.4,1343.8 L327.6,1343.8 L325.8,1343.8 L323.9,1343.8 L322.1,1343.7 L320.3,1343.6 L318.4,1343.4 L316.6,1343.3 L314.8,1343.2 L313.0,1343.1 L311.1,1343.0 L309.3,1342.9 L307.5,1342.9 L305.7,1342.9 L303.9,1343.0 L302.0,1343.1 L300.2,1343.2 L298.4,1343.3 L296.6,1343.4 L294.7,1343.6 L292.9,1343.7 L291.1,1343.8 L289.2,1343.8 L287.4,1343.8 L285.6,1343.8 L283.8,1343.8 L281.9,1343.7 L280.1,1343.6 L278.3,1343.4 L276.5,1343.1 L274.6,1342.8 L272.8,1342.3 L271.0,1340.5Z" fill="#0a0a0a" filter="url(#bl18)"/>
<path d="M349.0,1341.0 L350.9,1338.3 L352.8,1337.4 L354.7,1336.7 L356.6,1336.3 L358.5,1335.9 L360.4,1335.6 L362.3,1335.3 L364.2,1335.1 L366.1,1335.0 L368.0,1334.8 L369.9,1334.7 L371.8,1334.7 L373.7,1334.6 L375.6,1334.6 L377.5,1334.6 L379.4,1334.6 L381.3,1334.6 L383.2,1334.6 L385.1,1334.7 L387.0,1334.8 L388.9,1334.8 L390.8,1334.9 L392.7,1335.0 L394.6,1335.1 L396.5,1335.2 L398.4,1335.3 L400.3,1335.4 L402.2,1335.6 L404.1,1335.8 L406.0,1335.9 L407.9,1336.1 L409.8,1336.3 L411.7,1336.6 L413.6,1336.8 L415.5,1337.1 L417.4,1337.4 L419.3,1337.8 L421.2,1338.3 L423.1,1338.9 L425.0,1340.5 L425.0,1340.5 L423.1,1342.2 L421.2,1342.8 L419.3,1343.3 L417.4,1343.7 L415.5,1344.0 L413.6,1344.3 L411.7,1344.6 L409.8,1344.9 L407.9,1345.1 L406.0,1345.3 L404.1,1345.5 L402.2,1345.7 L400.3,1345.9 L398.4,1346.0 L396.5,1346.2 L394.6,1346.3 L392.7,1346.4 L390.8,1346.6 L388.9,1346.7 L387.0,1346.8 L385.1,1346.8 L383.2,1346.9 L381.3,1347.0 L379.4,1347.0 L377.5,1347.0 L375.6,1347.1 L373.7,1347.1 L371.8,1347.0 L369.9,1347.0 L368.0,1346.9 L366.1,1346.8 L364.2,1346.7 L362.3,1346.5 L360.4,1346.3 L358.5,1346.0 L356.6,1345.6 L354.7,1345.2 L352.8,1344.6 L350.9,1343.7 L349.0,1341.0Z" fill="#161616" opacity="0.25" filter="url(#bl40)"/>
<path d="M352.0,1341.0 L353.8,1339.0 L355.5,1338.5 L357.2,1338.1 L359.0,1337.9 L360.8,1337.7 L362.5,1337.6 L364.2,1337.5 L366.0,1337.4 L367.8,1337.4 L369.5,1337.4 L371.2,1337.4 L373.0,1337.4 L374.8,1337.4 L376.5,1337.4 L378.2,1337.5 L380.0,1337.5 L381.8,1337.6 L383.5,1337.6 L385.2,1337.7 L387.0,1337.8 L388.8,1337.8 L390.5,1337.9 L392.2,1337.9 L394.0,1338.0 L395.8,1338.1 L397.5,1338.2 L399.2,1338.3 L401.0,1338.3 L402.8,1338.4 L404.5,1338.5 L406.2,1338.6 L408.0,1338.7 L409.8,1338.8 L411.5,1339.0 L413.2,1339.1 L415.0,1339.2 L416.8,1339.4 L418.5,1339.6 L420.2,1339.8 L422.0,1340.5 L422.0,1340.5 L420.2,1341.2 L418.5,1341.5 L416.8,1341.7 L415.0,1341.9 L413.2,1342.0 L411.5,1342.2 L409.8,1342.3 L408.0,1342.5 L406.2,1342.6 L404.5,1342.7 L402.8,1342.8 L401.0,1343.0 L399.2,1343.1 L397.5,1343.2 L395.8,1343.3 L394.0,1343.4 L392.2,1343.5 L390.5,1343.6 L388.8,1343.7 L387.0,1343.8 L385.2,1343.8 L383.5,1343.9 L381.8,1344.0 L380.0,1344.1 L378.2,1344.2 L376.5,1344.2 L374.8,1344.3 L373.0,1344.3 L371.2,1344.4 L369.5,1344.4 L367.8,1344.4 L366.0,1344.4 L364.2,1344.3 L362.5,1344.3 L360.8,1344.2 L359.0,1344.0 L357.2,1343.8 L355.5,1343.5 L353.8,1343.0 L352.0,1341.0Z" fill="#161616" filter="url(#bl18)"/>
<path d="M428.0,1339.5 L429.2,1338.8 L430.4,1338.6 L431.6,1338.5 L432.8,1338.4 L434.0,1338.3 L435.2,1338.3 L436.4,1338.2 L437.6,1338.2 L438.8,1338.1 L440.0,1338.1 L441.2,1338.1 L442.4,1338.1 L443.6,1338.0 L444.8,1338.0 L446.0,1338.0 L447.2,1338.0 L448.4,1338.0 L449.6,1338.0 L450.8,1338.0 L452.0,1338.0 L453.2,1338.0 L454.4,1338.0 L455.6,1338.0 L456.8,1338.0 L458.0,1338.0 L459.2,1338.0 L460.4,1338.0 L461.6,1338.1 L462.8,1338.1 L464.0,1338.1 L465.2,1338.1 L466.4,1338.2 L467.6,1338.2 L468.8,1338.3 L470.0,1338.3 L471.2,1338.4 L472.4,1338.5 L473.6,1338.6 L474.8,1338.8 L476.0,1339.5 L476.0,1339.5 L474.8,1340.2 L473.6,1340.4 L472.4,1340.5 L471.2,1340.6 L470.0,1340.7 L468.8,1340.7 L467.6,1340.8 L466.4,1340.8 L465.2,1340.9 L464.0,1340.9 L462.8,1340.9 L461.6,1340.9 L460.4,1341.0 L459.2,1341.0 L458.0,1341.0 L456.8,1341.0 L455.6,1341.0 L454.4,1341.0 L453.2,1341.0 L452.0,1341.0 L450.8,1341.0 L449.6,1341.0 L448.4,1341.0 L447.2,1341.0 L446.0,1341.0 L444.8,1341.0 L443.6,1341.0 L442.4,1340.9 L441.2,1340.9 L440.0,1340.9 L438.8,1340.9 L437.6,1340.8 L436.4,1340.8 L435.2,1340.7 L434.0,1340.7 L432.8,1340.6 L431.6,1340.5 L430.4,1340.4 L429.2,1340.2 L428.0,1339.5Z" fill="#a0a0a0" filter="url(#bl18)"/>
<path d="M469.0,1339.0 L469.9,1337.0 L470.9,1336.4 L471.8,1335.9 L472.7,1335.5 L473.6,1335.2 L474.6,1334.9 L475.5,1334.7 L476.4,1334.4 L477.3,1334.3 L478.2,1334.1 L479.2,1334.0 L480.1,1333.9 L481.0,1333.8 L481.9,1333.7 L482.9,1333.6 L483.8,1333.6 L484.7,1333.5 L485.6,1333.5 L486.6,1333.5 L487.5,1333.5 L488.4,1333.5 L489.4,1333.5 L490.3,1333.5 L491.2,1333.6 L492.1,1333.6 L493.1,1333.7 L494.0,1333.8 L494.9,1333.9 L495.8,1334.0 L496.8,1334.2 L497.7,1334.4 L498.6,1334.6 L499.5,1334.8 L500.4,1335.1 L501.4,1335.5 L502.3,1335.9 L503.2,1336.4 L504.1,1337.0 L505.1,1337.9 L506.0,1340.5 L506.0,1340.5 L505.1,1343.0 L504.1,1343.8 L503.2,1344.4 L502.3,1344.8 L501.4,1345.1 L500.4,1345.4 L499.5,1345.6 L498.6,1345.8 L497.7,1345.9 L496.8,1346.1 L495.8,1346.1 L494.9,1346.2 L494.0,1346.2 L493.1,1346.2 L492.1,1346.2 L491.2,1346.2 L490.3,1346.2 L489.4,1346.1 L488.4,1346.1 L487.5,1346.0 L486.6,1345.9 L485.6,1345.8 L484.7,1345.7 L483.8,1345.6 L482.9,1345.5 L481.9,1345.4 L481.0,1345.2 L480.1,1345.0 L479.2,1344.8 L478.2,1344.6 L477.3,1344.4 L476.4,1344.2 L475.5,1343.9 L474.6,1343.6 L473.6,1343.2 L472.7,1342.8 L471.8,1342.4 L470.9,1341.8 L469.9,1341.0 L469.0,1339.0Z" fill="#080808" opacity="0.3" filter="url(#bl40)"/>
<path d="M472.0,1339.0 L472.8,1337.9 L473.6,1337.6 L474.3,1337.4 L475.1,1337.2 L475.9,1337.1 L476.6,1337.0 L477.4,1336.9 L478.2,1336.8 L479.0,1336.7 L479.8,1336.7 L480.5,1336.6 L481.3,1336.6 L482.1,1336.6 L482.9,1336.6 L483.6,1336.5 L484.4,1336.5 L485.2,1336.5 L485.9,1336.5 L486.7,1336.5 L487.5,1336.5 L488.3,1336.5 L489.1,1336.5 L489.8,1336.5 L490.6,1336.5 L491.4,1336.5 L492.1,1336.6 L492.9,1336.6 L493.7,1336.6 L494.5,1336.7 L495.2,1336.7 L496.0,1336.8 L496.8,1336.9 L497.6,1337.0 L498.4,1337.2 L499.1,1337.3 L499.9,1337.5 L500.7,1337.8 L501.4,1338.2 L502.2,1338.7 L503.0,1340.5 L503.0,1340.5 L502.2,1342.2 L501.4,1342.7 L500.7,1343.0 L499.9,1343.2 L499.1,1343.3 L498.4,1343.4 L497.6,1343.4 L496.8,1343.5 L496.0,1343.5 L495.2,1343.5 L494.5,1343.5 L493.7,1343.5 L492.9,1343.4 L492.1,1343.4 L491.4,1343.3 L490.6,1343.3 L489.8,1343.2 L489.1,1343.1 L488.3,1343.1 L487.5,1343.0 L486.7,1342.9 L485.9,1342.8 L485.2,1342.8 L484.4,1342.7 L483.6,1342.6 L482.9,1342.5 L482.1,1342.4 L481.3,1342.3 L480.5,1342.2 L479.8,1342.1 L479.0,1341.9 L478.2,1341.8 L477.4,1341.6 L476.6,1341.5 L475.9,1341.3 L475.1,1341.1 L474.3,1340.8 L473.6,1340.6 L472.8,1340.2 L472.0,1339.0Z" fill="#080808" filter="url(#bl18)"/>
<path d="M507.0,1339.0 L509.0,1337.2 L510.9,1336.5 L512.9,1336.1 L514.9,1335.7 L516.9,1335.4 L518.9,1335.1 L520.8,1334.9 L522.8,1334.7 L524.8,1334.5 L526.8,1334.4 L528.7,1334.3 L530.7,1334.2 L532.7,1334.1 L534.6,1334.0 L536.6,1333.9 L538.6,1333.9 L540.6,1333.8 L542.5,1333.8 L544.5,1333.8 L546.5,1333.8 L548.5,1333.7 L550.5,1333.7 L552.4,1333.7 L554.4,1333.8 L556.4,1333.8 L558.4,1333.8 L560.3,1333.9 L562.3,1334.0 L564.3,1334.1 L566.2,1334.2 L568.2,1334.3 L570.2,1334.4 L572.2,1334.6 L574.1,1334.8 L576.1,1335.0 L578.1,1335.3 L580.1,1335.6 L582.0,1336.1 L584.0,1336.7 L586.0,1338.5 L586.0,1338.5 L584.0,1340.3 L582.0,1341.0 L580.1,1341.4 L578.1,1341.8 L576.1,1342.1 L574.1,1342.4 L572.2,1342.6 L570.2,1342.8 L568.2,1343.0 L566.2,1343.1 L564.3,1343.2 L562.3,1343.3 L560.3,1343.4 L558.4,1343.5 L556.4,1343.6 L554.4,1343.6 L552.4,1343.7 L550.5,1343.7 L548.5,1343.7 L546.5,1343.8 L544.5,1343.8 L542.5,1343.8 L540.6,1343.8 L538.6,1343.7 L536.6,1343.7 L534.6,1343.7 L532.7,1343.6 L530.7,1343.5 L528.7,1343.4 L526.8,1343.3 L524.8,1343.2 L522.8,1343.1 L520.8,1342.9 L518.9,1342.7 L516.9,1342.5 L514.9,1342.2 L512.9,1341.9 L510.9,1341.4 L509.0,1340.8 L507.0,1339.0Z" fill="#858585" opacity="0.15" filter="url(#bl40)"/>
<path d="M510.0,1339.0 L511.8,1338.1 L513.6,1337.8 L515.5,1337.6 L517.3,1337.5 L519.1,1337.4 L521.0,1337.3 L522.8,1337.2 L524.6,1337.1 L526.4,1337.1 L528.2,1337.0 L530.1,1337.0 L531.9,1336.9 L533.7,1336.9 L535.5,1336.9 L537.4,1336.8 L539.2,1336.8 L541.0,1336.8 L542.9,1336.8 L544.7,1336.8 L546.5,1336.8 L548.3,1336.7 L550.1,1336.7 L552.0,1336.7 L553.8,1336.7 L555.6,1336.7 L557.5,1336.7 L559.3,1336.7 L561.1,1336.7 L562.9,1336.7 L564.8,1336.8 L566.6,1336.8 L568.4,1336.8 L570.2,1336.9 L572.0,1336.9 L573.9,1337.0 L575.7,1337.1 L577.5,1337.2 L579.4,1337.4 L581.2,1337.6 L583.0,1338.5 L583.0,1338.5 L581.2,1339.4 L579.4,1339.7 L577.5,1339.9 L575.7,1340.0 L573.9,1340.1 L572.0,1340.2 L570.2,1340.3 L568.4,1340.4 L566.6,1340.4 L564.8,1340.5 L562.9,1340.5 L561.1,1340.6 L559.3,1340.6 L557.5,1340.6 L555.6,1340.7 L553.8,1340.7 L552.0,1340.7 L550.1,1340.7 L548.3,1340.7 L546.5,1340.8 L544.7,1340.8 L542.9,1340.8 L541.0,1340.8 L539.2,1340.8 L537.4,1340.8 L535.5,1340.8 L533.7,1340.8 L531.9,1340.8 L530.1,1340.8 L528.2,1340.7 L526.4,1340.7 L524.6,1340.7 L522.8,1340.6 L521.0,1340.6 L519.1,1340.5 L517.3,1340.4 L515.5,1340.3 L513.6,1340.1 L511.8,1339.9 L510.0,1339.0Z" fill="#858585" filter="url(#bl18)"/>
<path d="M587.0,1338.5 L589.0,1336.7 L591.0,1336.0 L592.9,1335.6 L594.9,1335.2 L596.9,1334.9 L598.9,1334.7 L600.8,1334.5 L602.8,1334.3 L604.8,1334.1 L606.8,1334.0 L608.7,1333.9 L610.7,1333.8 L612.7,1333.7 L614.6,1333.7 L616.6,1333.6 L618.6,1333.6 L620.6,1333.5 L622.5,1333.5 L624.5,1333.5 L626.5,1333.5 L628.5,1333.5 L630.5,1333.5 L632.4,1333.5 L634.4,1333.6 L636.4,1333.6 L638.4,1333.7 L640.3,1333.7 L642.3,1333.8 L644.3,1333.9 L646.2,1334.0 L648.2,1334.1 L650.2,1334.3 L652.2,1334.4 L654.1,1334.6 L656.1,1334.8 L658.1,1335.1 L660.1,1335.4 L662.0,1335.8 L664.0,1336.4 L666.0,1338.0 L666.0,1338.0 L664.0,1339.6 L662.0,1340.2 L660.1,1340.7 L658.1,1341.0 L656.1,1341.3 L654.1,1341.5 L652.2,1341.8 L650.2,1341.9 L648.2,1342.1 L646.2,1342.3 L644.3,1342.4 L642.3,1342.5 L640.3,1342.6 L638.4,1342.7 L636.4,1342.8 L634.4,1342.8 L632.4,1342.9 L630.5,1342.9 L628.5,1343.0 L626.5,1343.0 L624.5,1343.0 L622.5,1343.0 L620.6,1343.0 L618.6,1343.0 L616.6,1343.0 L614.6,1343.0 L612.7,1343.0 L610.7,1342.9 L608.7,1342.8 L606.8,1342.7 L604.8,1342.6 L602.8,1342.5 L600.8,1342.3 L598.9,1342.2 L596.9,1341.9 L594.9,1341.7 L592.9,1341.3 L591.0,1340.9 L589.0,1340.3 L587.0,1338.5Z" fill="#8c8c8c" opacity="0.1" filter="url(#bl40)"/>
<path d="M590.0,1338.5 L591.8,1337.6 L593.6,1337.3 L595.5,1337.2 L597.3,1337.0 L599.1,1336.9 L601.0,1336.8 L602.8,1336.8 L604.6,1336.7 L606.4,1336.7 L608.2,1336.6 L610.1,1336.6 L611.9,1336.6 L613.7,1336.5 L615.5,1336.5 L617.4,1336.5 L619.2,1336.5 L621.0,1336.5 L622.9,1336.5 L624.7,1336.5 L626.5,1336.5 L628.3,1336.5 L630.1,1336.5 L632.0,1336.5 L633.8,1336.5 L635.6,1336.5 L637.5,1336.5 L639.3,1336.5 L641.1,1336.6 L642.9,1336.6 L644.8,1336.6 L646.6,1336.6 L648.4,1336.7 L650.2,1336.7 L652.0,1336.8 L653.9,1336.8 L655.7,1336.9 L657.5,1337.0 L659.4,1337.1 L661.2,1337.3 L663.0,1338.0 L663.0,1338.0 L661.2,1338.7 L659.4,1338.9 L657.5,1339.1 L655.7,1339.2 L653.9,1339.3 L652.0,1339.4 L650.2,1339.5 L648.4,1339.5 L646.6,1339.6 L644.8,1339.6 L642.9,1339.7 L641.1,1339.7 L639.3,1339.8 L637.5,1339.8 L635.6,1339.9 L633.8,1339.9 L632.0,1339.9 L630.1,1339.9 L628.3,1340.0 L626.5,1340.0 L624.7,1340.0 L622.9,1340.0 L621.0,1340.1 L619.2,1340.1 L617.4,1340.1 L615.5,1340.1 L613.7,1340.1 L611.9,1340.1 L610.1,1340.1 L608.2,1340.1 L606.4,1340.1 L604.6,1340.1 L602.8,1340.1 L601.0,1340.0 L599.1,1340.0 L597.3,1339.9 L595.5,1339.8 L593.6,1339.6 L591.8,1339.4 L590.0,1338.5Z" fill="#8c8c8c" filter="url(#bl18)"/>
</g>
<rect x="138.75" y="1280.95" width="564.7" height="98.5" fill="none" stroke="#000" stroke-width="3.5"/>
<g clip-path="url(#clipT)">
<rect x="138.00" y="1420.00" width="569.00" height="114.00" fill="#fbfbfb" />
<rect x="180" y="1480" width="500" height="50" fill="#f6f6f6" filter="url(#bl80)"/>
<path d="M187.0,1466.8 L188.7,1464.3 L190.4,1463.4 L192.1,1462.8 L193.8,1462.3 L195.5,1461.9 L197.2,1461.5 L198.9,1461.3 L200.6,1461.0 L202.3,1460.8 L204.0,1460.7 L205.7,1460.5 L207.4,1460.4 L209.1,1460.3 L210.8,1460.3 L212.5,1460.2 L214.2,1460.2 L215.9,1460.1 L217.6,1460.1 L219.3,1460.1 L221.0,1460.2 L222.7,1460.2 L224.4,1460.2 L226.1,1460.2 L227.8,1460.3 L229.5,1460.4 L231.2,1460.5 L232.9,1460.6 L234.6,1460.7 L236.3,1460.8 L238.0,1460.9 L239.7,1461.1 L241.4,1461.3 L243.1,1461.5 L244.8,1461.8 L246.5,1462.1 L248.2,1462.4 L249.9,1462.8 L251.6,1463.3 L253.3,1464.0 L255.0,1466.0 L255.0,1466.0 L253.3,1468.0 L251.6,1468.8 L249.9,1469.3 L248.2,1469.8 L246.5,1470.1 L244.8,1470.5 L243.1,1470.8 L241.4,1471.0 L239.7,1471.2 L238.0,1471.5 L236.3,1471.6 L234.6,1471.8 L232.9,1472.0 L231.2,1472.1 L229.5,1472.2 L227.8,1472.3 L226.1,1472.4 L224.4,1472.5 L222.7,1472.6 L221.0,1472.7 L219.3,1472.7 L217.6,1472.7 L215.9,1472.8 L214.2,1472.8 L212.5,1472.8 L210.8,1472.8 L209.1,1472.8 L207.4,1472.7 L205.7,1472.6 L204.0,1472.5 L202.3,1472.4 L200.6,1472.2 L198.9,1472.1 L197.2,1471.8 L195.5,1471.5 L193.8,1471.2 L192.1,1470.7 L190.4,1470.1 L188.7,1469.3 L187.0,1466.8Z" fill="#000" opacity="0.25" filter="url(#bl40)"/>
<path d="M190.0,1466.8 L191.6,1465.0 L193.1,1464.5 L194.7,1464.2 L196.2,1463.9 L197.8,1463.7 L199.3,1463.6 L200.8,1463.4 L202.4,1463.4 L203.9,1463.3 L205.5,1463.2 L207.1,1463.2 L208.6,1463.1 L210.2,1463.1 L211.7,1463.1 L213.2,1463.1 L214.8,1463.1 L216.3,1463.1 L217.9,1463.1 L219.4,1463.1 L221.0,1463.2 L222.6,1463.2 L224.1,1463.2 L225.7,1463.2 L227.2,1463.2 L228.8,1463.3 L230.3,1463.3 L231.8,1463.3 L233.4,1463.4 L234.9,1463.5 L236.5,1463.5 L238.1,1463.6 L239.6,1463.7 L241.2,1463.8 L242.7,1463.9 L244.2,1464.0 L245.8,1464.1 L247.3,1464.3 L248.9,1464.6 L250.4,1464.9 L252.0,1466.0 L252.0,1466.0 L250.4,1467.2 L248.9,1467.5 L247.3,1467.8 L245.8,1468.0 L244.2,1468.2 L242.7,1468.4 L241.2,1468.5 L239.6,1468.6 L238.1,1468.8 L236.5,1468.9 L234.9,1469.0 L233.4,1469.1 L231.8,1469.2 L230.3,1469.3 L228.8,1469.3 L227.2,1469.4 L225.7,1469.5 L224.1,1469.5 L222.6,1469.6 L221.0,1469.7 L219.4,1469.7 L217.9,1469.8 L216.3,1469.8 L214.8,1469.9 L213.2,1469.9 L211.7,1469.9 L210.2,1470.0 L208.6,1470.0 L207.1,1470.0 L205.5,1470.0 L203.9,1470.0 L202.4,1469.9 L200.8,1469.9 L199.3,1469.8 L197.8,1469.7 L196.2,1469.5 L194.7,1469.3 L193.1,1469.0 L191.6,1468.6 L190.0,1466.8Z" fill="#000" filter="url(#bl20)"/>
<path d="M210.0,1466.4 L211.1,1465.3 L212.1,1464.9 L213.2,1464.7 L214.2,1464.5 L215.2,1464.4 L216.3,1464.3 L217.3,1464.2 L218.4,1464.1 L219.4,1464.0 L220.5,1464.0 L221.6,1463.9 L222.6,1463.9 L223.7,1463.8 L224.7,1463.8 L225.8,1463.8 L226.8,1463.8 L227.8,1463.7 L228.9,1463.7 L229.9,1463.7 L231.0,1463.7 L232.1,1463.7 L233.1,1463.7 L234.2,1463.7 L235.2,1463.7 L236.2,1463.7 L237.3,1463.7 L238.3,1463.7 L239.4,1463.7 L240.4,1463.7 L241.5,1463.8 L242.6,1463.8 L243.6,1463.9 L244.7,1463.9 L245.7,1464.0 L246.8,1464.1 L247.8,1464.2 L248.8,1464.4 L249.9,1464.6 L250.9,1464.9 L252.0,1466.0 L252.0,1466.0 L250.9,1467.1 L249.9,1467.5 L248.8,1467.7 L247.8,1467.9 L246.8,1468.0 L245.7,1468.1 L244.7,1468.2 L243.6,1468.3 L242.6,1468.4 L241.5,1468.4 L240.4,1468.5 L239.4,1468.5 L238.3,1468.6 L237.3,1468.6 L236.2,1468.6 L235.2,1468.6 L234.2,1468.7 L233.1,1468.7 L232.1,1468.7 L231.0,1468.7 L229.9,1468.7 L228.9,1468.7 L227.8,1468.7 L226.8,1468.7 L225.8,1468.7 L224.7,1468.7 L223.7,1468.7 L222.6,1468.7 L221.6,1468.7 L220.5,1468.6 L219.4,1468.6 L218.4,1468.5 L217.3,1468.5 L216.3,1468.4 L215.2,1468.3 L214.2,1468.2 L213.2,1468.0 L212.1,1467.8 L211.1,1467.5 L210.0,1466.4Z" fill="#2a2a2a" filter="url(#bl20)"/>
<path d="M269.0,1464.5 L270.7,1461.6 L272.4,1460.6 L274.2,1459.9 L275.9,1459.3 L277.6,1458.9 L279.4,1458.5 L281.1,1458.2 L282.8,1457.9 L284.5,1457.7 L286.2,1457.5 L288.0,1457.4 L289.7,1457.3 L291.4,1457.2 L293.1,1457.1 L294.9,1457.0 L296.6,1457.0 L298.3,1457.0 L300.1,1457.0 L301.8,1457.0 L303.5,1457.0 L305.2,1457.0 L306.9,1457.1 L308.7,1457.1 L310.4,1457.2 L312.1,1457.3 L313.9,1457.4 L315.6,1457.5 L317.3,1457.6 L319.0,1457.7 L320.8,1457.9 L322.5,1458.1 L324.2,1458.3 L325.9,1458.5 L327.6,1458.8 L329.4,1459.1 L331.1,1459.4 L332.8,1459.8 L334.6,1460.3 L336.3,1461.0 L338.0,1463.0 L338.0,1463.0 L336.3,1465.0 L334.6,1465.8 L332.8,1466.4 L331.1,1466.9 L329.4,1467.3 L327.6,1467.7 L325.9,1468.0 L324.2,1468.3 L322.5,1468.6 L320.8,1468.9 L319.0,1469.1 L317.3,1469.3 L315.6,1469.5 L313.9,1469.7 L312.1,1469.9 L310.4,1470.0 L308.7,1470.2 L306.9,1470.3 L305.2,1470.4 L303.5,1470.5 L301.8,1470.6 L300.1,1470.7 L298.3,1470.8 L296.6,1470.8 L294.9,1470.8 L293.1,1470.9 L291.4,1470.9 L289.7,1470.8 L288.0,1470.8 L286.2,1470.7 L284.5,1470.6 L282.8,1470.5 L281.1,1470.3 L279.4,1470.1 L277.6,1469.8 L275.9,1469.4 L274.2,1468.9 L272.4,1468.3 L270.7,1467.3 L269.0,1464.5Z" fill="#000" opacity="0.3" filter="url(#bl40)"/>
<path d="M272.0,1464.5 L273.6,1462.2 L275.1,1461.6 L276.7,1461.2 L278.3,1460.9 L279.9,1460.6 L281.4,1460.5 L283.0,1460.3 L284.6,1460.2 L286.2,1460.1 L287.8,1460.0 L289.3,1460.0 L290.9,1460.0 L292.5,1459.9 L294.1,1459.9 L295.6,1459.9 L297.2,1459.9 L298.8,1459.9 L300.4,1460.0 L301.9,1460.0 L303.5,1460.0 L305.1,1460.0 L306.6,1460.1 L308.2,1460.1 L309.8,1460.1 L311.4,1460.2 L312.9,1460.2 L314.5,1460.3 L316.1,1460.3 L317.7,1460.4 L319.2,1460.5 L320.8,1460.5 L322.4,1460.6 L324.0,1460.7 L325.6,1460.9 L327.1,1461.0 L328.7,1461.1 L330.3,1461.3 L331.9,1461.6 L333.4,1461.9 L335.0,1463.0 L335.0,1463.0 L333.4,1464.2 L331.9,1464.6 L330.3,1464.9 L328.7,1465.2 L327.1,1465.4 L325.6,1465.6 L324.0,1465.8 L322.4,1466.0 L320.8,1466.1 L319.2,1466.3 L317.7,1466.4 L316.1,1466.6 L314.5,1466.7 L312.9,1466.8 L311.4,1467.0 L309.8,1467.1 L308.2,1467.2 L306.6,1467.3 L305.1,1467.4 L303.5,1467.5 L301.9,1467.6 L300.4,1467.7 L298.8,1467.8 L297.2,1467.9 L295.6,1468.0 L294.1,1468.0 L292.5,1468.1 L290.9,1468.1 L289.3,1468.2 L287.8,1468.2 L286.2,1468.2 L284.6,1468.2 L283.0,1468.2 L281.4,1468.1 L279.9,1468.0 L278.3,1467.8 L276.7,1467.6 L275.1,1467.2 L273.6,1466.7 L272.0,1464.5Z" fill="#000" filter="url(#bl20)"/>
<path d="M354.0,1462.8 L355.7,1460.6 L357.4,1459.9 L359.1,1459.3 L360.8,1458.9 L362.5,1458.5 L364.2,1458.2 L365.9,1457.9 L367.6,1457.7 L369.3,1457.5 L371.0,1457.4 L372.7,1457.2 L374.4,1457.1 L376.1,1457.0 L377.8,1456.9 L379.5,1456.8 L381.2,1456.8 L382.9,1456.7 L384.6,1456.7 L386.3,1456.7 L388.0,1456.7 L389.7,1456.6 L391.4,1456.7 L393.1,1456.7 L394.8,1456.7 L396.5,1456.7 L398.2,1456.8 L399.9,1456.9 L401.6,1457.0 L403.3,1457.1 L405.0,1457.2 L406.7,1457.4 L408.4,1457.5 L410.1,1457.8 L411.8,1458.0 L413.5,1458.3 L415.2,1458.6 L416.9,1459.0 L418.6,1459.6 L420.3,1460.3 L422.0,1462.5 L422.0,1462.5 L420.3,1464.7 L418.6,1465.4 L416.9,1466.0 L415.2,1466.4 L413.5,1466.8 L411.8,1467.1 L410.1,1467.4 L408.4,1467.6 L406.7,1467.8 L405.0,1467.9 L403.3,1468.1 L401.6,1468.2 L399.9,1468.3 L398.2,1468.4 L396.5,1468.5 L394.8,1468.5 L393.1,1468.6 L391.4,1468.6 L389.7,1468.6 L388.0,1468.7 L386.3,1468.7 L384.6,1468.6 L382.9,1468.6 L381.2,1468.6 L379.5,1468.6 L377.8,1468.5 L376.1,1468.4 L374.4,1468.3 L372.7,1468.2 L371.0,1468.1 L369.3,1467.9 L367.6,1467.8 L365.9,1467.5 L364.2,1467.3 L362.5,1467.0 L360.8,1466.7 L359.1,1466.3 L357.4,1465.7 L355.7,1465.0 L354.0,1462.8Z" fill="#727272" opacity="0.18" filter="url(#bl40)"/>
<path d="M357.0,1462.8 L358.6,1461.4 L360.1,1461.1 L361.6,1460.8 L363.2,1460.6 L364.8,1460.4 L366.3,1460.3 L367.9,1460.2 L369.4,1460.1 L370.9,1460.0 L372.5,1459.9 L374.1,1459.9 L375.6,1459.8 L377.1,1459.8 L378.7,1459.7 L380.2,1459.7 L381.8,1459.7 L383.4,1459.7 L384.9,1459.7 L386.4,1459.7 L388.0,1459.7 L389.6,1459.6 L391.1,1459.6 L392.6,1459.6 L394.2,1459.6 L395.8,1459.6 L397.3,1459.7 L398.9,1459.7 L400.4,1459.7 L401.9,1459.7 L403.5,1459.8 L405.1,1459.8 L406.6,1459.9 L408.1,1460.0 L409.7,1460.1 L411.2,1460.2 L412.8,1460.3 L414.4,1460.5 L415.9,1460.8 L417.4,1461.2 L419.0,1462.5 L419.0,1462.5 L417.4,1463.9 L415.9,1464.2 L414.4,1464.5 L412.8,1464.7 L411.2,1464.9 L409.7,1465.0 L408.1,1465.1 L406.6,1465.2 L405.1,1465.3 L403.5,1465.4 L401.9,1465.4 L400.4,1465.5 L398.9,1465.5 L397.3,1465.6 L395.8,1465.6 L394.2,1465.6 L392.6,1465.6 L391.1,1465.6 L389.6,1465.6 L388.0,1465.7 L386.4,1465.7 L384.9,1465.7 L383.4,1465.7 L381.8,1465.7 L380.2,1465.7 L378.7,1465.6 L377.1,1465.6 L375.6,1465.6 L374.1,1465.6 L372.5,1465.5 L370.9,1465.5 L369.4,1465.4 L367.9,1465.3 L366.3,1465.2 L364.8,1465.1 L363.2,1465.0 L361.6,1464.8 L360.1,1464.5 L358.6,1464.1 L357.0,1462.8Z" fill="#727272" filter="url(#bl25)"/>
<path d="M437.0,1460.5 L438.6,1458.1 L440.2,1457.2 L441.9,1456.6 L443.5,1456.1 L445.1,1455.7 L446.8,1455.4 L448.4,1455.1 L450.0,1454.8 L451.6,1454.6 L453.2,1454.4 L454.9,1454.2 L456.5,1454.1 L458.1,1454.0 L459.8,1453.9 L461.4,1453.8 L463.0,1453.7 L464.6,1453.6 L466.2,1453.6 L467.9,1453.5 L469.5,1453.5 L471.1,1453.5 L472.8,1453.5 L474.4,1453.5 L476.0,1453.5 L477.6,1453.5 L479.2,1453.5 L480.9,1453.6 L482.5,1453.7 L484.1,1453.8 L485.8,1453.9 L487.4,1454.0 L489.0,1454.1 L490.6,1454.3 L492.2,1454.5 L493.9,1454.8 L495.5,1455.1 L497.1,1455.4 L498.8,1455.9 L500.4,1456.6 L502.0,1458.5 L502.0,1458.5 L500.4,1460.5 L498.8,1461.3 L497.1,1461.9 L495.5,1462.3 L493.9,1462.7 L492.2,1463.1 L490.6,1463.4 L489.0,1463.7 L487.4,1463.9 L485.8,1464.1 L484.1,1464.3 L482.5,1464.5 L480.9,1464.7 L479.2,1464.9 L477.6,1465.0 L476.0,1465.1 L474.4,1465.2 L472.8,1465.3 L471.1,1465.4 L469.5,1465.5 L467.9,1465.6 L466.2,1465.6 L464.6,1465.7 L463.0,1465.7 L461.4,1465.7 L459.8,1465.7 L458.1,1465.7 L456.5,1465.7 L454.9,1465.7 L453.2,1465.6 L451.6,1465.5 L450.0,1465.4 L448.4,1465.2 L446.8,1465.0 L445.1,1464.8 L443.5,1464.5 L441.9,1464.1 L440.2,1463.6 L438.6,1462.8 L437.0,1460.5Z" fill="#404040" opacity="0.2" filter="url(#bl40)"/>
<path d="M440.0,1460.5 L441.5,1458.9 L442.9,1458.4 L444.4,1458.1 L445.9,1457.8 L447.4,1457.6 L448.9,1457.4 L450.3,1457.3 L451.8,1457.2 L453.3,1457.1 L454.8,1457.0 L456.2,1456.9 L457.7,1456.8 L459.2,1456.8 L460.6,1456.7 L462.1,1456.7 L463.6,1456.6 L465.1,1456.6 L466.6,1456.6 L468.0,1456.5 L469.5,1456.5 L471.0,1456.5 L472.4,1456.5 L473.9,1456.4 L475.4,1456.4 L476.9,1456.4 L478.4,1456.4 L479.8,1456.4 L481.3,1456.4 L482.8,1456.4 L484.2,1456.4 L485.7,1456.5 L487.2,1456.5 L488.7,1456.6 L490.1,1456.6 L491.6,1456.7 L493.1,1456.8 L494.6,1456.9 L496.1,1457.1 L497.5,1457.4 L499.0,1458.5 L499.0,1458.5 L497.5,1459.7 L496.1,1460.1 L494.6,1460.4 L493.1,1460.6 L491.6,1460.8 L490.1,1461.0 L488.7,1461.1 L487.2,1461.3 L485.7,1461.4 L484.2,1461.6 L482.8,1461.7 L481.3,1461.8 L479.8,1461.9 L478.4,1462.0 L476.9,1462.1 L475.4,1462.2 L473.9,1462.3 L472.4,1462.3 L471.0,1462.4 L469.5,1462.5 L468.0,1462.6 L466.6,1462.6 L465.1,1462.7 L463.6,1462.8 L462.1,1462.8 L460.6,1462.9 L459.2,1462.9 L457.7,1463.0 L456.2,1463.0 L454.8,1463.0 L453.3,1463.0 L451.8,1463.0 L450.3,1463.0 L448.9,1463.0 L447.4,1462.9 L445.9,1462.8 L444.4,1462.6 L442.9,1462.4 L441.5,1462.0 L440.0,1460.5Z" fill="#404040" filter="url(#bl25)"/>
<path d="M520.0,1460.5 L521.6,1458.1 L523.3,1457.3 L525.0,1456.7 L526.6,1456.3 L528.2,1455.9 L529.9,1455.6 L531.5,1455.3 L533.2,1455.0 L534.9,1454.8 L536.5,1454.7 L538.1,1454.5 L539.8,1454.4 L541.5,1454.3 L543.1,1454.2 L544.8,1454.1 L546.4,1454.1 L548.0,1454.0 L549.7,1454.0 L551.4,1454.0 L553.0,1454.0 L554.6,1454.0 L556.3,1454.0 L558.0,1454.0 L559.6,1454.1 L561.2,1454.1 L562.9,1454.2 L564.5,1454.3 L566.2,1454.4 L567.9,1454.5 L569.5,1454.6 L571.1,1454.8 L572.8,1455.0 L574.5,1455.2 L576.1,1455.5 L577.8,1455.8 L579.4,1456.1 L581.0,1456.5 L582.7,1457.1 L584.4,1457.8 L586.0,1460.0 L586.0,1460.0 L584.4,1462.2 L582.7,1463.0 L581.0,1463.5 L579.4,1464.0 L577.8,1464.4 L576.1,1464.7 L574.5,1465.0 L572.8,1465.2 L571.1,1465.4 L569.5,1465.6 L567.9,1465.8 L566.2,1465.9 L564.5,1466.0 L562.9,1466.1 L561.2,1466.2 L559.6,1466.3 L558.0,1466.4 L556.3,1466.4 L554.6,1466.5 L553.0,1466.5 L551.4,1466.5 L549.7,1466.5 L548.0,1466.5 L546.4,1466.5 L544.8,1466.5 L543.1,1466.4 L541.5,1466.4 L539.8,1466.3 L538.1,1466.2 L536.5,1466.1 L534.9,1465.9 L533.2,1465.8 L531.5,1465.5 L529.9,1465.3 L528.2,1465.0 L526.6,1464.6 L525.0,1464.2 L523.3,1463.6 L521.6,1462.8 L520.0,1460.5Z" fill="#525252" opacity="0.2" filter="url(#bl40)"/>
<path d="M523.0,1460.5 L524.5,1458.9 L526.0,1458.5 L527.5,1458.2 L529.0,1457.9 L530.5,1457.8 L532.0,1457.6 L533.5,1457.5 L535.0,1457.4 L536.5,1457.3 L538.0,1457.2 L539.5,1457.2 L541.0,1457.1 L542.5,1457.1 L544.0,1457.1 L545.5,1457.0 L547.0,1457.0 L548.5,1457.0 L550.0,1457.0 L551.5,1457.0 L553.0,1457.0 L554.5,1457.0 L556.0,1457.0 L557.5,1457.0 L559.0,1457.0 L560.5,1457.0 L562.0,1457.1 L563.5,1457.1 L565.0,1457.1 L566.5,1457.2 L568.0,1457.2 L569.5,1457.3 L571.0,1457.3 L572.5,1457.4 L574.0,1457.5 L575.5,1457.7 L577.0,1457.8 L578.5,1458.0 L580.0,1458.3 L581.5,1458.7 L583.0,1460.0 L583.0,1460.0 L581.5,1461.4 L580.0,1461.8 L578.5,1462.1 L577.0,1462.3 L575.5,1462.5 L574.0,1462.6 L572.5,1462.7 L571.0,1462.9 L569.5,1463.0 L568.0,1463.0 L566.5,1463.1 L565.0,1463.2 L563.5,1463.2 L562.0,1463.3 L560.5,1463.3 L559.0,1463.4 L557.5,1463.4 L556.0,1463.4 L554.5,1463.5 L553.0,1463.5 L551.5,1463.5 L550.0,1463.5 L548.5,1463.6 L547.0,1463.6 L545.5,1463.6 L544.0,1463.6 L542.5,1463.6 L541.0,1463.6 L539.5,1463.6 L538.0,1463.5 L536.5,1463.5 L535.0,1463.4 L533.5,1463.3 L532.0,1463.2 L530.5,1463.1 L529.0,1463.0 L527.5,1462.8 L526.0,1462.5 L524.5,1462.1 L523.0,1460.5Z" fill="#525252" filter="url(#bl25)"/>
<path d="M603.0,1460.5 L604.8,1458.4 L606.6,1457.8 L608.5,1457.3 L610.3,1457.0 L612.1,1456.8 L614.0,1456.6 L615.8,1456.5 L617.6,1456.3 L619.4,1456.3 L621.2,1456.2 L623.1,1456.2 L624.9,1456.2 L626.7,1456.2 L628.5,1456.3 L630.4,1456.3 L632.2,1456.4 L634.0,1456.5 L635.9,1456.5 L637.7,1456.6 L639.5,1456.8 L641.3,1456.9 L643.1,1457.0 L645.0,1457.1 L646.8,1457.3 L648.6,1457.4 L650.5,1457.6 L652.3,1457.8 L654.1,1458.0 L655.9,1458.2 L657.8,1458.4 L659.6,1458.7 L661.4,1459.0 L663.2,1459.2 L665.0,1459.6 L666.9,1459.9 L668.7,1460.3 L670.5,1460.8 L672.4,1461.4 L674.2,1462.1 L676.0,1464.0 L676.0,1464.0 L674.2,1465.7 L672.4,1466.3 L670.5,1466.7 L668.7,1467.0 L666.9,1467.2 L665.0,1467.4 L663.2,1467.5 L661.4,1467.6 L659.6,1467.7 L657.8,1467.8 L655.9,1467.9 L654.1,1467.9 L652.3,1467.9 L650.5,1467.9 L648.6,1467.9 L646.8,1467.9 L645.0,1467.9 L643.1,1467.9 L641.3,1467.8 L639.5,1467.8 L637.7,1467.7 L635.9,1467.6 L634.0,1467.5 L632.2,1467.4 L630.4,1467.3 L628.5,1467.2 L626.7,1467.0 L624.9,1466.9 L623.1,1466.7 L621.2,1466.5 L619.4,1466.3 L617.6,1466.1 L615.8,1465.8 L614.0,1465.5 L612.1,1465.1 L610.3,1464.7 L608.5,1464.2 L606.6,1463.6 L604.8,1462.7 L603.0,1460.5Z" fill="#7a7a7a" opacity="0.15" filter="url(#bl40)"/>
<path d="M606.0,1460.5 L607.7,1459.3 L609.4,1459.0 L611.0,1458.8 L612.7,1458.7 L614.4,1458.7 L616.0,1458.7 L617.7,1458.7 L619.4,1458.7 L621.1,1458.8 L622.8,1458.8 L624.4,1458.9 L626.1,1458.9 L627.8,1459.0 L629.5,1459.1 L631.1,1459.2 L632.8,1459.3 L634.5,1459.4 L636.1,1459.5 L637.8,1459.6 L639.5,1459.8 L641.2,1459.9 L642.9,1460.0 L644.5,1460.1 L646.2,1460.2 L647.9,1460.3 L649.5,1460.5 L651.2,1460.6 L652.9,1460.7 L654.6,1460.9 L656.2,1461.0 L657.9,1461.2 L659.6,1461.3 L661.3,1461.5 L663.0,1461.7 L664.6,1461.9 L666.3,1462.1 L668.0,1462.4 L669.6,1462.6 L671.3,1463.0 L673.0,1464.0 L673.0,1464.0 L671.3,1464.8 L669.6,1465.0 L668.0,1465.1 L666.3,1465.2 L664.6,1465.2 L663.0,1465.2 L661.3,1465.3 L659.6,1465.3 L657.9,1465.2 L656.2,1465.2 L654.6,1465.2 L652.9,1465.2 L651.2,1465.1 L649.5,1465.1 L647.9,1465.0 L646.2,1465.0 L644.5,1464.9 L642.9,1464.9 L641.2,1464.8 L639.5,1464.8 L637.8,1464.7 L636.1,1464.6 L634.5,1464.6 L632.8,1464.5 L631.1,1464.4 L629.5,1464.3 L627.8,1464.2 L626.1,1464.2 L624.4,1464.1 L622.8,1463.9 L621.1,1463.8 L619.4,1463.7 L617.7,1463.5 L616.0,1463.4 L614.4,1463.2 L612.7,1463.0 L611.0,1462.7 L609.4,1462.4 L607.7,1461.9 L606.0,1460.5Z" fill="#7a7a7a" filter="url(#bl25)"/>
</g>
<rect x="138.9" y="1421" width="567.1" height="112.5" fill="none" stroke="#000" stroke-width="3"/>
<g clip-path="url(#clipB)">
<rect x="146.00" y="1570.00" width="565.00" height="50.00" fill="url(#gB)" />
<rect x="146" y="1570" width="565" height="6" fill="#d4d4d4" opacity="0.8" filter="url(#bl20)"/>
<path d="M183.3,1593.0 L184.9,1589.7 L186.6,1588.6 L188.2,1587.8 L189.8,1587.1 L191.5,1586.6 L193.1,1586.2 L194.7,1585.8 L196.3,1585.5 L198.0,1585.2 L199.6,1585.0 L201.2,1584.7 L202.9,1584.6 L204.5,1584.4 L206.1,1584.3 L207.8,1584.2 L209.4,1584.1 L211.0,1584.1 L212.6,1584.0 L214.3,1584.0 L215.9,1584.0 L217.5,1584.0 L219.2,1584.0 L220.8,1584.1 L222.4,1584.1 L224.1,1584.2 L225.7,1584.3 L227.3,1584.4 L228.9,1584.6 L230.6,1584.7 L232.2,1585.0 L233.8,1585.2 L235.5,1585.5 L237.1,1585.8 L238.7,1586.2 L240.3,1586.6 L242.0,1587.1 L243.6,1587.8 L245.2,1588.6 L246.9,1589.7 L248.5,1593.0 L248.5,1593.0 L246.9,1596.3 L245.2,1597.4 L243.6,1598.2 L242.0,1598.9 L240.3,1599.4 L238.7,1599.8 L237.1,1600.2 L235.5,1600.5 L233.8,1600.8 L232.2,1601.0 L230.6,1601.3 L228.9,1601.4 L227.3,1601.6 L225.7,1601.7 L224.1,1601.8 L222.4,1601.9 L220.8,1601.9 L219.2,1602.0 L217.5,1602.0 L215.9,1602.0 L214.3,1602.0 L212.6,1602.0 L211.0,1601.9 L209.4,1601.9 L207.8,1601.8 L206.1,1601.7 L204.5,1601.6 L202.9,1601.4 L201.2,1601.3 L199.6,1601.0 L198.0,1600.8 L196.3,1600.5 L194.7,1600.2 L193.1,1599.8 L191.5,1599.4 L189.8,1598.9 L188.2,1598.2 L186.6,1597.4 L184.9,1596.3 L183.3,1593.0Z" fill="#000" opacity="0.45" filter="url(#bl40)"/>
<path d="M186.3,1593.0 L187.8,1589.9 L189.3,1589.1 L190.7,1588.6 L192.2,1588.3 L193.7,1588.0 L195.2,1587.8 L196.7,1587.7 L198.1,1587.6 L199.6,1587.5 L201.1,1587.4 L202.6,1587.4 L204.1,1587.4 L205.5,1587.4 L207.0,1587.4 L208.5,1587.5 L210.0,1587.5 L211.5,1587.5 L212.9,1587.6 L214.4,1587.6 L215.9,1587.6 L217.4,1587.6 L218.9,1587.6 L220.3,1587.5 L221.8,1587.5 L223.3,1587.5 L224.8,1587.4 L226.3,1587.4 L227.7,1587.4 L229.2,1587.4 L230.7,1587.4 L232.2,1587.5 L233.7,1587.6 L235.1,1587.7 L236.6,1587.8 L238.1,1588.0 L239.6,1588.3 L241.1,1588.6 L242.5,1589.1 L244.0,1589.9 L245.5,1593.0 L245.5,1593.0 L244.0,1596.1 L242.5,1596.9 L241.1,1597.4 L239.6,1597.7 L238.1,1598.0 L236.6,1598.2 L235.1,1598.3 L233.7,1598.4 L232.2,1598.5 L230.7,1598.6 L229.2,1598.6 L227.7,1598.6 L226.3,1598.6 L224.8,1598.6 L223.3,1598.5 L221.8,1598.5 L220.3,1598.5 L218.9,1598.4 L217.4,1598.4 L215.9,1598.4 L214.4,1598.4 L212.9,1598.4 L211.5,1598.5 L210.0,1598.5 L208.5,1598.5 L207.0,1598.6 L205.5,1598.6 L204.1,1598.6 L202.6,1598.6 L201.1,1598.6 L199.6,1598.5 L198.1,1598.4 L196.7,1598.3 L195.2,1598.2 L193.7,1598.0 L192.2,1597.7 L190.7,1597.4 L189.3,1596.9 L187.8,1596.1 L186.3,1593.0Z" fill="#000" filter="url(#bl20)"/>
<path d="M269.0,1593.0 L270.6,1589.7 L272.2,1588.6 L273.8,1587.8 L275.4,1587.1 L276.9,1586.6 L278.5,1586.2 L280.1,1585.8 L281.7,1585.5 L283.3,1585.2 L284.9,1585.0 L286.5,1584.7 L288.1,1584.6 L289.6,1584.4 L291.2,1584.3 L292.8,1584.2 L294.4,1584.1 L296.0,1584.1 L297.6,1584.0 L299.2,1584.0 L300.8,1584.0 L302.3,1584.0 L303.9,1584.0 L305.5,1584.1 L307.1,1584.1 L308.7,1584.2 L310.3,1584.3 L311.9,1584.4 L313.4,1584.6 L315.0,1584.7 L316.6,1585.0 L318.2,1585.2 L319.8,1585.5 L321.4,1585.8 L323.0,1586.2 L324.6,1586.6 L326.1,1587.1 L327.7,1587.8 L329.3,1588.6 L330.9,1589.7 L332.5,1593.0 L332.5,1593.0 L330.9,1596.3 L329.3,1597.4 L327.7,1598.2 L326.1,1598.9 L324.6,1599.4 L323.0,1599.8 L321.4,1600.2 L319.8,1600.5 L318.2,1600.8 L316.6,1601.0 L315.0,1601.3 L313.4,1601.4 L311.9,1601.6 L310.3,1601.7 L308.7,1601.8 L307.1,1601.9 L305.5,1601.9 L303.9,1602.0 L302.3,1602.0 L300.8,1602.0 L299.2,1602.0 L297.6,1602.0 L296.0,1601.9 L294.4,1601.9 L292.8,1601.8 L291.2,1601.7 L289.6,1601.6 L288.1,1601.4 L286.5,1601.3 L284.9,1601.0 L283.3,1600.8 L281.7,1600.5 L280.1,1600.2 L278.5,1599.8 L276.9,1599.4 L275.4,1598.9 L273.8,1598.2 L272.2,1597.4 L270.6,1596.3 L269.0,1593.0Z" fill="#000" opacity="0.45" filter="url(#bl40)"/>
<path d="M272.0,1593.0 L273.4,1589.9 L274.9,1589.1 L276.3,1588.7 L277.8,1588.3 L279.2,1588.1 L280.6,1587.9 L282.1,1587.8 L283.5,1587.7 L284.9,1587.7 L286.4,1587.7 L287.8,1587.8 L289.2,1587.9 L290.7,1588.0 L292.1,1588.2 L293.6,1588.3 L295.0,1588.5 L296.4,1588.6 L297.9,1588.7 L299.3,1588.8 L300.8,1588.8 L302.2,1588.8 L303.6,1588.7 L305.1,1588.6 L306.5,1588.5 L307.9,1588.3 L309.4,1588.2 L310.8,1588.0 L312.2,1587.9 L313.7,1587.8 L315.1,1587.7 L316.6,1587.7 L318.0,1587.7 L319.4,1587.8 L320.9,1587.9 L322.3,1588.1 L323.8,1588.3 L325.2,1588.7 L326.6,1589.1 L328.1,1589.9 L329.5,1593.0 L329.5,1593.0 L328.1,1596.1 L326.6,1596.9 L325.2,1597.3 L323.8,1597.7 L322.3,1597.9 L320.9,1598.1 L319.4,1598.2 L318.0,1598.3 L316.6,1598.3 L315.1,1598.3 L313.7,1598.2 L312.2,1598.1 L310.8,1598.0 L309.4,1597.8 L307.9,1597.7 L306.5,1597.5 L305.1,1597.4 L303.6,1597.3 L302.2,1597.2 L300.8,1597.2 L299.3,1597.2 L297.9,1597.3 L296.4,1597.4 L295.0,1597.5 L293.6,1597.7 L292.1,1597.8 L290.7,1598.0 L289.2,1598.1 L287.8,1598.2 L286.4,1598.3 L284.9,1598.3 L283.5,1598.3 L282.1,1598.2 L280.6,1598.1 L279.2,1597.9 L277.8,1597.7 L276.3,1597.3 L274.9,1596.9 L273.4,1596.1 L272.0,1593.0Z" fill="#000" filter="url(#bl20)"/>
<path d="M350.6,1593.0 L352.2,1589.7 L353.8,1588.6 L355.5,1587.8 L357.1,1587.1 L358.7,1586.6 L360.3,1586.2 L361.9,1585.8 L363.5,1585.5 L365.2,1585.2 L366.8,1585.0 L368.4,1584.7 L370.0,1584.6 L371.6,1584.4 L373.2,1584.3 L374.9,1584.2 L376.5,1584.1 L378.1,1584.1 L379.7,1584.0 L381.3,1584.0 L383.0,1584.0 L384.6,1584.0 L386.2,1584.0 L387.8,1584.1 L389.4,1584.1 L391.0,1584.2 L392.7,1584.3 L394.3,1584.4 L395.9,1584.6 L397.5,1584.7 L399.1,1585.0 L400.7,1585.2 L402.4,1585.5 L404.0,1585.8 L405.6,1586.2 L407.2,1586.6 L408.8,1587.1 L410.4,1587.8 L412.1,1588.6 L413.7,1589.7 L415.3,1593.0 L415.3,1593.0 L413.7,1596.3 L412.1,1597.4 L410.4,1598.2 L408.8,1598.9 L407.2,1599.4 L405.6,1599.8 L404.0,1600.2 L402.4,1600.5 L400.7,1600.8 L399.1,1601.0 L397.5,1601.3 L395.9,1601.4 L394.3,1601.6 L392.7,1601.7 L391.0,1601.8 L389.4,1601.9 L387.8,1601.9 L386.2,1602.0 L384.6,1602.0 L383.0,1602.0 L381.3,1602.0 L379.7,1602.0 L378.1,1601.9 L376.5,1601.9 L374.9,1601.8 L373.2,1601.7 L371.6,1601.6 L370.0,1601.4 L368.4,1601.3 L366.8,1601.0 L365.2,1600.8 L363.5,1600.5 L361.9,1600.2 L360.3,1599.8 L358.7,1599.4 L357.1,1598.9 L355.5,1598.2 L353.8,1597.4 L352.2,1596.3 L350.6,1593.0Z" fill="#000" opacity="0.45" filter="url(#bl40)"/>
<path d="M353.6,1593.0 L355.1,1589.9 L356.5,1589.1 L358.0,1588.7 L359.5,1588.3 L360.9,1588.1 L362.4,1587.9 L363.9,1587.8 L365.3,1587.7 L366.8,1587.7 L368.3,1587.7 L369.7,1587.8 L371.2,1587.9 L372.7,1588.0 L374.1,1588.2 L375.6,1588.3 L377.1,1588.5 L378.5,1588.6 L380.0,1588.7 L381.5,1588.8 L383.0,1588.8 L384.4,1588.8 L385.9,1588.7 L387.4,1588.6 L388.8,1588.5 L390.3,1588.3 L391.8,1588.2 L393.2,1588.0 L394.7,1587.9 L396.2,1587.8 L397.6,1587.7 L399.1,1587.7 L400.6,1587.7 L402.0,1587.8 L403.5,1587.9 L405.0,1588.1 L406.4,1588.3 L407.9,1588.7 L409.4,1589.1 L410.8,1589.9 L412.3,1593.0 L412.3,1593.0 L410.8,1596.1 L409.4,1596.9 L407.9,1597.3 L406.4,1597.7 L405.0,1597.9 L403.5,1598.1 L402.0,1598.2 L400.6,1598.3 L399.1,1598.3 L397.6,1598.3 L396.2,1598.2 L394.7,1598.1 L393.2,1598.0 L391.8,1597.8 L390.3,1597.7 L388.8,1597.5 L387.4,1597.4 L385.9,1597.3 L384.4,1597.2 L383.0,1597.2 L381.5,1597.2 L380.0,1597.3 L378.5,1597.4 L377.1,1597.5 L375.6,1597.7 L374.1,1597.8 L372.7,1598.0 L371.2,1598.1 L369.7,1598.2 L368.3,1598.3 L366.8,1598.3 L365.3,1598.3 L363.9,1598.2 L362.4,1598.1 L360.9,1597.9 L359.5,1597.7 L358.0,1597.3 L356.5,1596.9 L355.1,1596.1 L353.6,1593.0Z" fill="#000" filter="url(#bl20)"/>
<path d="M432.3,1593.0 L433.9,1589.7 L435.6,1588.6 L437.2,1587.8 L438.8,1587.1 L440.5,1586.6 L442.1,1586.2 L443.7,1585.8 L445.4,1585.5 L447.0,1585.2 L448.6,1585.0 L450.3,1584.7 L451.9,1584.6 L453.5,1584.4 L455.2,1584.3 L456.8,1584.2 L458.4,1584.1 L460.1,1584.1 L461.7,1584.0 L463.3,1584.0 L465.0,1584.0 L466.6,1584.0 L468.2,1584.0 L469.8,1584.1 L471.5,1584.1 L473.1,1584.2 L474.7,1584.3 L476.4,1584.4 L478.0,1584.6 L479.6,1584.7 L481.3,1585.0 L482.9,1585.2 L484.5,1585.5 L486.2,1585.8 L487.8,1586.2 L489.4,1586.6 L491.1,1587.1 L492.7,1587.8 L494.3,1588.6 L496.0,1589.7 L497.6,1593.0 L497.6,1593.0 L496.0,1596.3 L494.3,1597.4 L492.7,1598.2 L491.1,1598.9 L489.4,1599.4 L487.8,1599.8 L486.2,1600.2 L484.5,1600.5 L482.9,1600.8 L481.3,1601.0 L479.6,1601.3 L478.0,1601.4 L476.4,1601.6 L474.7,1601.7 L473.1,1601.8 L471.5,1601.9 L469.8,1601.9 L468.2,1602.0 L466.6,1602.0 L465.0,1602.0 L463.3,1602.0 L461.7,1602.0 L460.1,1601.9 L458.4,1601.9 L456.8,1601.8 L455.2,1601.7 L453.5,1601.6 L451.9,1601.4 L450.3,1601.3 L448.6,1601.0 L447.0,1600.8 L445.4,1600.5 L443.7,1600.2 L442.1,1599.8 L440.5,1599.4 L438.8,1598.9 L437.2,1598.2 L435.6,1597.4 L433.9,1596.3 L432.3,1593.0Z" fill="#000" opacity="0.45" filter="url(#bl40)"/>
<path d="M435.3,1593.0 L436.8,1589.9 L438.3,1589.1 L439.7,1588.7 L441.2,1588.3 L442.7,1588.1 L444.2,1587.9 L445.7,1587.8 L447.2,1587.7 L448.6,1587.6 L450.1,1587.7 L451.6,1587.7 L453.1,1587.8 L454.6,1587.9 L456.1,1588.0 L457.5,1588.1 L459.0,1588.2 L460.5,1588.3 L462.0,1588.4 L463.5,1588.5 L465.0,1588.5 L466.4,1588.5 L467.9,1588.4 L469.4,1588.3 L470.9,1588.2 L472.4,1588.1 L473.8,1588.0 L475.3,1587.9 L476.8,1587.8 L478.3,1587.7 L479.8,1587.7 L481.3,1587.6 L482.7,1587.7 L484.2,1587.8 L485.7,1587.9 L487.2,1588.1 L488.7,1588.3 L490.2,1588.7 L491.6,1589.1 L493.1,1589.9 L494.6,1593.0 L494.6,1593.0 L493.1,1596.1 L491.6,1596.9 L490.2,1597.3 L488.7,1597.7 L487.2,1597.9 L485.7,1598.1 L484.2,1598.2 L482.7,1598.3 L481.3,1598.4 L479.8,1598.3 L478.3,1598.3 L476.8,1598.2 L475.3,1598.1 L473.8,1598.0 L472.4,1597.9 L470.9,1597.8 L469.4,1597.7 L467.9,1597.6 L466.4,1597.5 L465.0,1597.5 L463.5,1597.5 L462.0,1597.6 L460.5,1597.7 L459.0,1597.8 L457.5,1597.9 L456.1,1598.0 L454.6,1598.1 L453.1,1598.2 L451.6,1598.3 L450.1,1598.3 L448.6,1598.4 L447.2,1598.3 L445.7,1598.2 L444.2,1598.1 L442.7,1597.9 L441.2,1597.7 L439.7,1597.3 L438.3,1596.9 L436.8,1596.1 L435.3,1593.0Z" fill="#000" filter="url(#bl20)"/>
<path d="M515.3,1593.0 L516.9,1589.7 L518.6,1588.6 L520.2,1587.8 L521.8,1587.1 L523.5,1586.6 L525.1,1586.2 L526.7,1585.8 L528.4,1585.5 L530.0,1585.2 L531.6,1585.0 L533.3,1584.7 L534.9,1584.6 L536.5,1584.4 L538.2,1584.3 L539.8,1584.2 L541.4,1584.1 L543.1,1584.1 L544.7,1584.0 L546.3,1584.0 L548.0,1584.0 L549.6,1584.0 L551.2,1584.0 L552.8,1584.1 L554.5,1584.1 L556.1,1584.2 L557.7,1584.3 L559.4,1584.4 L561.0,1584.6 L562.6,1584.7 L564.3,1585.0 L565.9,1585.2 L567.5,1585.5 L569.2,1585.8 L570.8,1586.2 L572.4,1586.6 L574.1,1587.1 L575.7,1587.8 L577.3,1588.6 L579.0,1589.7 L580.6,1593.0 L580.6,1593.0 L579.0,1596.3 L577.3,1597.4 L575.7,1598.2 L574.1,1598.9 L572.4,1599.4 L570.8,1599.8 L569.2,1600.2 L567.5,1600.5 L565.9,1600.8 L564.3,1601.0 L562.6,1601.3 L561.0,1601.4 L559.4,1601.6 L557.7,1601.7 L556.1,1601.8 L554.5,1601.9 L552.8,1601.9 L551.2,1602.0 L549.6,1602.0 L548.0,1602.0 L546.3,1602.0 L544.7,1602.0 L543.1,1601.9 L541.4,1601.9 L539.8,1601.8 L538.2,1601.7 L536.5,1601.6 L534.9,1601.4 L533.3,1601.3 L531.6,1601.0 L530.0,1600.8 L528.4,1600.5 L526.7,1600.2 L525.1,1599.8 L523.5,1599.4 L521.8,1598.9 L520.2,1598.2 L518.6,1597.4 L516.9,1596.3 L515.3,1593.0Z" fill="#000" opacity="0.45" filter="url(#bl40)"/>
<path d="M518.3,1593.0 L519.8,1589.9 L521.3,1589.1 L522.7,1588.7 L524.2,1588.3 L525.7,1588.1 L527.2,1587.9 L528.7,1587.8 L530.2,1587.7 L531.6,1587.6 L533.1,1587.7 L534.6,1587.7 L536.1,1587.8 L537.6,1587.9 L539.1,1588.0 L540.5,1588.1 L542.0,1588.2 L543.5,1588.3 L545.0,1588.4 L546.5,1588.5 L548.0,1588.5 L549.4,1588.5 L550.9,1588.4 L552.4,1588.3 L553.9,1588.2 L555.4,1588.1 L556.8,1588.0 L558.3,1587.9 L559.8,1587.8 L561.3,1587.7 L562.8,1587.7 L564.3,1587.6 L565.7,1587.7 L567.2,1587.8 L568.7,1587.9 L570.2,1588.1 L571.7,1588.3 L573.2,1588.7 L574.6,1589.1 L576.1,1589.9 L577.6,1593.0 L577.6,1593.0 L576.1,1596.1 L574.6,1596.9 L573.2,1597.3 L571.7,1597.7 L570.2,1597.9 L568.7,1598.1 L567.2,1598.2 L565.7,1598.3 L564.3,1598.4 L562.8,1598.3 L561.3,1598.3 L559.8,1598.2 L558.3,1598.1 L556.8,1598.0 L555.4,1597.9 L553.9,1597.8 L552.4,1597.7 L550.9,1597.6 L549.4,1597.5 L548.0,1597.5 L546.5,1597.5 L545.0,1597.6 L543.5,1597.7 L542.0,1597.8 L540.5,1597.9 L539.1,1598.0 L537.6,1598.1 L536.1,1598.2 L534.6,1598.3 L533.1,1598.3 L531.6,1598.4 L530.2,1598.3 L528.7,1598.2 L527.2,1598.1 L525.7,1597.9 L524.2,1597.7 L522.7,1597.3 L521.3,1596.9 L519.8,1596.1 L518.3,1593.0Z" fill="#000" filter="url(#bl20)"/>
<path d="M598.3,1593.0 L600.1,1589.7 L602.0,1588.6 L603.8,1587.8 L605.6,1587.1 L607.4,1586.6 L609.3,1586.2 L611.1,1585.8 L612.9,1585.5 L614.7,1585.2 L616.6,1585.0 L618.4,1584.7 L620.2,1584.6 L622.1,1584.4 L623.9,1584.3 L625.7,1584.2 L627.5,1584.1 L629.4,1584.1 L631.2,1584.0 L633.0,1584.0 L634.8,1584.0 L636.7,1584.0 L638.5,1584.0 L640.3,1584.1 L642.2,1584.1 L644.0,1584.2 L645.8,1584.3 L647.6,1584.4 L649.5,1584.6 L651.3,1584.7 L653.1,1585.0 L655.0,1585.2 L656.8,1585.5 L658.6,1585.8 L660.4,1586.2 L662.3,1586.6 L664.1,1587.1 L665.9,1587.8 L667.7,1588.6 L669.6,1589.7 L671.4,1593.0 L671.4,1593.0 L669.6,1596.3 L667.7,1597.4 L665.9,1598.2 L664.1,1598.9 L662.3,1599.4 L660.4,1599.8 L658.6,1600.2 L656.8,1600.5 L655.0,1600.8 L653.1,1601.0 L651.3,1601.3 L649.5,1601.4 L647.6,1601.6 L645.8,1601.7 L644.0,1601.8 L642.2,1601.9 L640.3,1601.9 L638.5,1602.0 L636.7,1602.0 L634.8,1602.0 L633.0,1602.0 L631.2,1602.0 L629.4,1601.9 L627.5,1601.9 L625.7,1601.8 L623.9,1601.7 L622.1,1601.6 L620.2,1601.4 L618.4,1601.3 L616.6,1601.0 L614.7,1600.8 L612.9,1600.5 L611.1,1600.2 L609.3,1599.8 L607.4,1599.4 L605.6,1598.9 L603.8,1598.2 L602.0,1597.4 L600.1,1596.3 L598.3,1593.0Z" fill="#000" opacity="0.45" filter="url(#bl40)"/>
<path d="M601.3,1593.0 L603.0,1589.9 L604.7,1589.1 L606.3,1588.7 L608.0,1588.3 L609.7,1588.1 L611.4,1587.9 L613.0,1587.7 L614.7,1587.6 L616.4,1587.6 L618.1,1587.6 L619.8,1587.6 L621.4,1587.6 L623.1,1587.7 L624.8,1587.8 L626.5,1587.9 L628.1,1588.0 L629.8,1588.1 L631.5,1588.1 L633.2,1588.2 L634.8,1588.2 L636.5,1588.2 L638.2,1588.1 L639.9,1588.1 L641.6,1588.0 L643.2,1587.9 L644.9,1587.8 L646.6,1587.7 L648.3,1587.6 L649.9,1587.6 L651.6,1587.6 L653.3,1587.6 L655.0,1587.6 L656.7,1587.7 L658.3,1587.9 L660.0,1588.1 L661.7,1588.3 L663.4,1588.7 L665.0,1589.1 L666.7,1589.9 L668.4,1593.0 L668.4,1593.0 L666.7,1596.1 L665.0,1596.9 L663.4,1597.3 L661.7,1597.7 L660.0,1597.9 L658.3,1598.1 L656.7,1598.3 L655.0,1598.4 L653.3,1598.4 L651.6,1598.4 L649.9,1598.4 L648.3,1598.4 L646.6,1598.3 L644.9,1598.2 L643.2,1598.1 L641.6,1598.0 L639.9,1597.9 L638.2,1597.9 L636.5,1597.8 L634.8,1597.8 L633.2,1597.8 L631.5,1597.9 L629.8,1597.9 L628.1,1598.0 L626.5,1598.1 L624.8,1598.2 L623.1,1598.3 L621.4,1598.4 L619.8,1598.4 L618.1,1598.4 L616.4,1598.4 L614.7,1598.4 L613.0,1598.3 L611.4,1598.1 L609.7,1597.9 L608.0,1597.7 L606.3,1597.3 L604.7,1596.9 L603.0,1596.1 L601.3,1593.0Z" fill="#000" filter="url(#bl20)"/>
</g>
<rect x="148.1" y="1571.5" width="560.6" height="46" rx="2" fill="none" stroke="#000" stroke-width="3"/>
<text transform="translate(799.14,1223.02) scale(1.0481,1)" font-family="Liberation Sans" font-weight="bold" font-size="27.56" fill="#000" >G</text>
<line x1="921.00" y1="1403.50" x2="921.00" y2="1425.30" stroke="#000" stroke-width="2.2" stroke-linecap="butt"/>
<line x1="914.20" y1="1403.50" x2="927.80" y2="1403.50" stroke="#000" stroke-width="2.2" stroke-linecap="butt"/>
<rect x="906.80" y="1425.30" width="28.40" height="229.90" fill="#000" />
<line x1="963.45" y1="1497.90" x2="963.45" y2="1502.00" stroke="#000" stroke-width="2.2" stroke-linecap="butt"/>
<line x1="956.65" y1="1497.90" x2="970.25" y2="1497.90" stroke="#000" stroke-width="2.2" stroke-linecap="butt"/>
<rect x="949.70" y="1502.00" width="27.50" height="153.20" fill="#000" />
<line x1="1006.45" y1="1505.60" x2="1006.45" y2="1519.00" stroke="#000" stroke-width="2.2" stroke-linecap="butt"/>
<line x1="999.65" y1="1505.60" x2="1013.25" y2="1505.60" stroke="#000" stroke-width="2.2" stroke-linecap="butt"/>
<rect x="992.50" y="1519.00" width="27.90" height="136.20" fill="#000" />
<line x1="1049.00" y1="1481.90" x2="1049.00" y2="1484.80" stroke="#000" stroke-width="2.2" stroke-linecap="butt"/>
<line x1="1042.20" y1="1481.90" x2="1055.80" y2="1481.90" stroke="#000" stroke-width="2.2" stroke-linecap="butt"/>
<rect x="1035.00" y="1484.80" width="28.00" height="170.40" fill="#000" />
<line x1="1092.00" y1="1532.40" x2="1092.00" y2="1545.00" stroke="#000" stroke-width="2.2" stroke-linecap="butt"/>
<line x1="1085.20" y1="1532.40" x2="1098.80" y2="1532.40" stroke="#000" stroke-width="2.2" stroke-linecap="butt"/>
<rect x="1078.00" y="1545.00" width="28.00" height="110.20" fill="#000" />
<line x1="1134.50" y1="1559.70" x2="1134.50" y2="1566.20" stroke="#000" stroke-width="2.2" stroke-linecap="butt"/>
<line x1="1127.70" y1="1559.70" x2="1141.30" y2="1559.70" stroke="#000" stroke-width="2.2" stroke-linecap="butt"/>
<rect x="1120.60" y="1566.20" width="27.80" height="89.00" fill="#000" />
<line x1="1204.45" y1="1522.80" x2="1204.45" y2="1538.50" stroke="#000" stroke-width="2.2" stroke-linecap="butt"/>
<line x1="1197.65" y1="1522.80" x2="1211.25" y2="1522.80" stroke="#000" stroke-width="2.2" stroke-linecap="butt"/>
<rect x="1190.60" y="1538.50" width="27.70" height="116.90" fill="#000" />
<rect x="1196.30" y="1544.20" width="16.30" height="109.50" fill="#a7a7ab" />
<line x1="1246.65" y1="1514.00" x2="1246.65" y2="1515.90" stroke="#000" stroke-width="2.2" stroke-linecap="butt"/>
<line x1="1239.85" y1="1514.00" x2="1253.45" y2="1514.00" stroke="#000" stroke-width="2.2" stroke-linecap="butt"/>
<rect x="1232.50" y="1515.90" width="28.30" height="139.50" fill="#000" />
<rect x="1238.20" y="1521.60" width="16.90" height="132.10" fill="#a7a7ab" />
<line x1="1290.00" y1="1592.30" x2="1290.00" y2="1595.10" stroke="#000" stroke-width="2.2" stroke-linecap="butt"/>
<line x1="1283.20" y1="1592.30" x2="1296.80" y2="1592.30" stroke="#000" stroke-width="2.2" stroke-linecap="butt"/>
<rect x="1276.20" y="1595.10" width="27.60" height="60.30" fill="#000" />
<rect x="1281.90" y="1600.80" width="16.20" height="52.90" fill="#a7a7ab" />
<line x1="1332.35" y1="1586.10" x2="1332.35" y2="1588.70" stroke="#000" stroke-width="2.2" stroke-linecap="butt"/>
<line x1="1325.55" y1="1586.10" x2="1339.15" y2="1586.10" stroke="#000" stroke-width="2.2" stroke-linecap="butt"/>
<rect x="1318.20" y="1588.70" width="28.30" height="66.70" fill="#000" />
<rect x="1323.90" y="1594.40" width="16.90" height="59.30" fill="#a7a7ab" />
<line x1="1375.00" y1="1593.00" x2="1375.00" y2="1594.40" stroke="#000" stroke-width="2.2" stroke-linecap="butt"/>
<line x1="1368.20" y1="1593.00" x2="1381.80" y2="1593.00" stroke="#000" stroke-width="2.2" stroke-linecap="butt"/>
<rect x="1361.10" y="1594.40" width="27.80" height="61.00" fill="#000" />
<rect x="1366.80" y="1600.10" width="16.40" height="53.60" fill="#a7a7ab" />
<line x1="1417.50" y1="1611.90" x2="1417.50" y2="1613.10" stroke="#000" stroke-width="2.2" stroke-linecap="butt"/>
<line x1="1410.70" y1="1611.90" x2="1424.30" y2="1611.90" stroke="#000" stroke-width="2.2" stroke-linecap="butt"/>
<rect x="1403.60" y="1613.10" width="27.80" height="42.30" fill="#000" />
<rect x="1409.30" y="1618.80" width="16.40" height="34.90" fill="#a7a7ab" />
<line x1="892.40" y1="1284.30" x2="892.40" y2="1657.00" stroke="#000" stroke-width="3.5" stroke-linecap="butt"/>
<line x1="876.80" y1="1286.20" x2="892.40" y2="1286.20" stroke="#000" stroke-width="3.8" stroke-linecap="butt"/>
<text transform="translate(837.21,1296.06) scale(0.9803,1)" font-family="Liberation Serif" font-weight="bold" font-size="29.19" fill="#000" >1.5</text>
<line x1="876.80" y1="1409.70" x2="892.40" y2="1409.70" stroke="#000" stroke-width="3.8" stroke-linecap="butt"/>
<text transform="translate(837.21,1419.57) scale(0.9875,1)" font-family="Liberation Serif" font-weight="bold" font-size="28.97" fill="#000" >1.0</text>
<line x1="876.80" y1="1531.80" x2="892.40" y2="1531.80" stroke="#000" stroke-width="3.8" stroke-linecap="butt"/>
<text transform="translate(838.47,1541.67) scale(0.9518,1)" font-family="Liberation Serif" font-weight="bold" font-size="28.97" fill="#000" >0.5</text>
<line x1="876.80" y1="1655.40" x2="892.40" y2="1655.40" stroke="#000" stroke-width="3.8" stroke-linecap="butt"/>
<text transform="translate(838.47,1665.27) scale(0.9518,1)" font-family="Liberation Serif" font-weight="bold" font-size="28.97" fill="#000" >0.0</text>
<line x1="876.80" y1="1655.40" x2="1448.60" y2="1655.40" stroke="#000" stroke-width="3.4" stroke-linecap="butt"/>
<line x1="921.00" y1="1655.40" x2="921.00" y2="1670.70" stroke="#000" stroke-width="3.8" stroke-linecap="butt"/>
<text transform="translate(895.21,1699.80) scale(0.9439,1)" font-family="Liberation Serif" font-weight="bold" font-size="29.47" fill="#000" >PBS</text>
<line x1="963.00" y1="1655.40" x2="963.00" y2="1670.70" stroke="#000" stroke-width="3.8" stroke-linecap="butt"/>
<text transform="translate(955.43,1699.80) scale(0.9796,1)" font-family="Liberation Serif" font-weight="bold" font-size="29.13" fill="#000" >3</text>
<line x1="1005.60" y1="1655.40" x2="1005.60" y2="1670.70" stroke="#000" stroke-width="3.8" stroke-linecap="butt"/>
<text transform="translate(998.78,1699.80) scale(0.8910,1)" font-family="Liberation Serif" font-weight="bold" font-size="29.13" fill="#000" >4</text>
<line x1="1048.10" y1="1655.40" x2="1048.10" y2="1670.70" stroke="#000" stroke-width="3.8" stroke-linecap="butt"/>
<text transform="translate(1040.44,1699.80) scale(0.9912,1)" font-family="Liberation Serif" font-weight="bold" font-size="29.13" fill="#000" >5</text>
<line x1="1091.40" y1="1655.40" x2="1091.40" y2="1670.70" stroke="#000" stroke-width="3.8" stroke-linecap="butt"/>
<text transform="translate(1083.92,1699.80) scale(0.9627,1)" font-family="Liberation Serif" font-weight="bold" font-size="29.13" fill="#000" >6</text>
<line x1="1134.10" y1="1655.40" x2="1134.10" y2="1670.70" stroke="#000" stroke-width="3.8" stroke-linecap="butt"/>
<text transform="translate(1125.92,1699.80) scale(1.0031,1)" font-family="Liberation Serif" font-weight="bold" font-size="29.13" fill="#000" >7</text>
<line x1="1203.70" y1="1655.40" x2="1203.70" y2="1670.70" stroke="#000" stroke-width="3.8" stroke-linecap="butt"/>
<text transform="translate(1177.91,1699.80) scale(0.9439,1)" font-family="Liberation Serif" font-weight="bold" font-size="29.47" fill="#000" >PBS</text>
<line x1="1246.60" y1="1655.40" x2="1246.60" y2="1670.70" stroke="#000" stroke-width="3.8" stroke-linecap="butt"/>
<text transform="translate(1239.03,1699.80) scale(0.9796,1)" font-family="Liberation Serif" font-weight="bold" font-size="29.13" fill="#000" >3</text>
<line x1="1289.60" y1="1655.40" x2="1289.60" y2="1670.70" stroke="#000" stroke-width="3.8" stroke-linecap="butt"/>
<text transform="translate(1282.78,1699.80) scale(0.8910,1)" font-family="Liberation Serif" font-weight="bold" font-size="29.13" fill="#000" >4</text>
<line x1="1332.00" y1="1655.40" x2="1332.00" y2="1670.70" stroke="#000" stroke-width="3.8" stroke-linecap="butt"/>
<text transform="translate(1324.34,1699.80) scale(0.9912,1)" font-family="Liberation Serif" font-weight="bold" font-size="29.13" fill="#000" >5</text>
<line x1="1374.80" y1="1655.40" x2="1374.80" y2="1670.70" stroke="#000" stroke-width="3.8" stroke-linecap="butt"/>
<text transform="translate(1367.32,1699.80) scale(0.9627,1)" font-family="Liberation Serif" font-weight="bold" font-size="29.13" fill="#000" >6</text>
<line x1="1417.70" y1="1655.40" x2="1417.70" y2="1670.70" stroke="#000" stroke-width="3.8" stroke-linecap="butt"/>
<text transform="translate(1409.52,1699.80) scale(1.0031,1)" font-family="Liberation Serif" font-weight="bold" font-size="29.13" fill="#000" >7</text>
<rect x="932.60" y="1260.80" width="39.40" height="19.20" fill="#000" />
<rect x="935.50" y="1313.90" width="33.60" height="13.20" fill="#a7a7ab" stroke="#000" stroke-width="5.8"/>
<text transform="translate(993.73,1280.80) scale(1.0307,1)" font-family="Liberation Serif" font-weight="normal" font-size="31.30" fill="#000" >Hsp60</text>
<text transform="translate(994.17,1330.80) scale(1.0059,1)" font-family="Liberation Serif" font-weight="normal" font-size="30.23" fill="#000" >Tim23</text>
<text transform="translate(819.20,1697.62) rotate(-90) scale(0.9200,1)" font-family="Liberation Serif" font-weight="bold" font-size="32.09" letter-spacing="1.490" fill="#000">Relative mitoproteins expression</text>
<text transform="translate(949.63,1494.83)" font-family="Liberation Sans" font-weight="bold" font-size="27.38" letter-spacing="1.484" fill="#000" >***</text>
<text transform="translate(983.13,1502.13)" font-family="Liberation Sans" font-weight="bold" font-size="27.38" letter-spacing="0.830" fill="#000" >****</text>
<text transform="translate(1038.74,1473.63)" font-family="Liberation Sans" font-weight="bold" font-size="25.50" letter-spacing="2.176" fill="#000" >***</text>
<text transform="translate(1075.53,1524.89)" font-family="Liberation Sans" font-weight="bold" font-size="26.31" letter-spacing="1.785" fill="#000" >****</text>
<text transform="translate(1117.93,1558.81)" font-family="Liberation Sans" font-weight="bold" font-size="27.65" letter-spacing="0.957" fill="#000" >****</text>
<text transform="translate(1279.23,1588.91)" font-family="Liberation Sans" font-weight="bold" font-size="27.65" letter-spacing="0.670" fill="#000" >**</text>
<text transform="translate(1319.93,1587.11)" font-family="Liberation Sans" font-weight="bold" font-size="27.65" letter-spacing="0.370" fill="#000" >**</text>
<text transform="translate(1364.13,1590.59)" font-family="Liberation Sans" font-weight="bold" font-size="26.31" letter-spacing="1.511" fill="#000" >**</text>
<text transform="translate(1399.63,1612.11)" font-family="Liberation Sans" font-weight="bold" font-size="27.65" letter-spacing="0.928" fill="#000" >***</text>
</svg></body></html>
